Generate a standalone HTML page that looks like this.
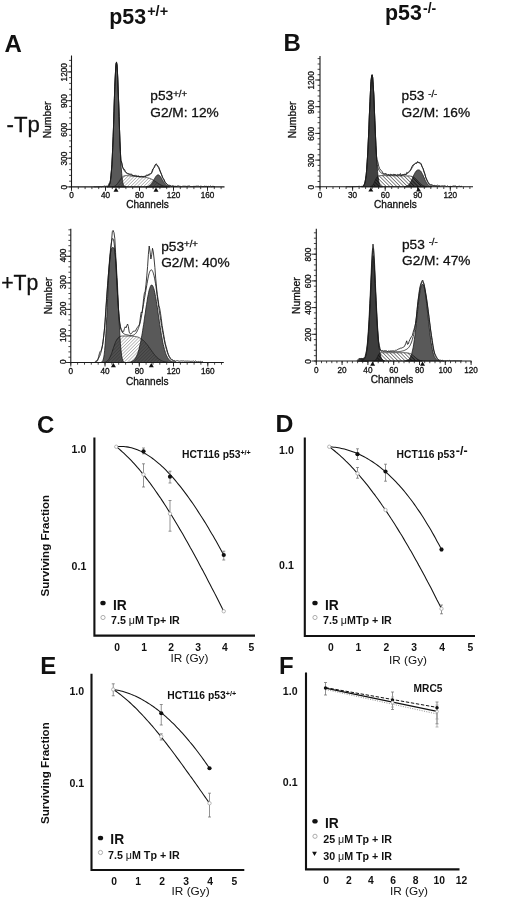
<!DOCTYPE html>
<html><head><meta charset="utf-8"><title>Figure</title>
<style>html,body{margin:0;padding:0;background:#fff}svg{display:block;will-change:transform;filter:grayscale(1)}</style></head>
<body><svg width="520" height="900" viewBox="0 0 520 900" font-family="Liberation Sans, sans-serif" fill="#111">
<rect width="520" height="900" fill="#fff"/>
<defs><pattern id="hatchF" width="2.3" height="2.3" patternUnits="userSpaceOnUse" patternTransform="rotate(-45)"><rect width="2.3" height="2.3" fill="#fff"/><path d="M0,1.15 H2.3" stroke="#999" stroke-width="0.6"/></pattern><pattern id="hatchFD" width="2.3" height="2.3" patternUnits="userSpaceOnUse" patternTransform="rotate(-45)"><path d="M0,1.15 H2.3" stroke="#333" stroke-width="0.45"/></pattern><pattern id="hatchB" width="2.5" height="2.5" patternUnits="userSpaceOnUse" patternTransform="rotate(45)"><rect width="2.5" height="2.5" fill="#fff"/><path d="M0,1.25 H2.5" stroke="#6a6a6a" stroke-width="0.8"/></pattern><pattern id="hatchBD" width="2.5" height="2.5" patternUnits="userSpaceOnUse" patternTransform="rotate(45)"><path d="M0,1.25 H2.5" stroke="#111" stroke-width="0.7"/></pattern></defs>
<clipPath id="cpa"><path d="M107.2,186.9 L107.2,186.8 L107.6,186.7 L108.0,186.5 L108.5,186.3 L108.9,185.8 L109.3,185.0 L109.8,183.9 L110.2,182.1 L110.6,179.6 L111.0,176.0 L111.4,171.2 L111.9,164.9 L112.3,157.0 L112.7,147.5 L113.2,136.5 L113.6,124.3 L114.0,111.4 L114.4,98.5 L114.8,86.4 L115.3,76.0 L115.7,68.2 L116.1,63.5 L116.5,62.4 L117.0,65.0 L117.4,71.0 L117.8,79.9 L118.2,91.1 L118.7,103.6 L119.1,116.6 L119.5,129.3 L119.9,141.1 L120.4,151.5 L120.8,160.4 L121.2,167.6 L121.7,173.3 L122.1,177.6 L122.5,180.7 L122.9,182.9 L123.3,184.4 L123.8,185.4 L124.2,186.0 L124.6,186.4 L125.0,186.6 L125.5,186.7 L125.5,186.9 Z"/><path d="M146.3,186.9 L146.3,186.7 L146.7,186.7 L147.1,186.6 L147.6,186.5 L148.0,186.3 L148.4,186.2 L148.8,186.0 L149.3,185.7 L149.7,185.5 L150.1,185.1 L150.6,184.7 L151.0,184.3 L151.4,183.8 L151.8,183.2 L152.2,182.6 L152.7,181.9 L153.1,181.2 L153.5,180.5 L153.9,179.7 L154.4,179.0 L154.8,178.2 L155.2,177.5 L155.6,176.8 L156.1,176.2 L156.5,175.7 L156.9,175.3 L157.3,175.0 L157.8,174.9 L158.2,174.8 L158.6,174.9 L159.1,175.1 L159.5,175.5 L159.9,175.9 L160.3,176.5 L160.8,177.1 L161.2,177.8 L161.6,178.5 L162.0,179.3 L162.4,180.0 L162.9,180.8 L163.3,181.5 L163.7,182.2 L164.1,182.8 L164.6,183.4 L165.0,184.0 L165.4,184.5 L165.8,184.9 L166.3,185.3 L166.7,185.6 L167.1,185.8 L167.6,186.1 L168.0,186.2 L168.4,186.4 L168.8,186.5 L169.2,186.6 L169.7,186.7 L169.7,186.9 Z"/></clipPath>
<path d="M112.7,186.9 L112.7,186.7 L113.2,186.7 L113.6,186.6 L114.0,186.4 L114.4,186.3 L114.8,186.1 L115.3,185.8 L115.7,185.5 L116.1,185.2 L116.5,184.8 L117.0,184.3 L117.4,183.8 L117.8,183.2 L118.2,182.6 L118.7,181.9 L119.1,181.3 L119.5,180.6 L119.9,180.0 L120.4,179.4 L120.8,178.8 L121.2,178.2 L121.7,177.7 L122.1,177.3 L122.5,176.9 L122.9,176.6 L123.3,176.3 L123.8,176.1 L124.2,175.9 L124.6,175.8 L125.0,175.7 L125.5,175.7 L125.9,175.6 L126.3,175.6 L126.8,175.6 L127.2,175.6 L127.6,175.7 L128.0,175.7 L128.4,175.7 L128.9,175.7 L129.3,175.8 L129.7,175.8 L130.2,175.8 L130.6,175.9 L131.0,175.9 L131.4,176.0 L131.8,176.0 L132.3,176.0 L132.7,176.1 L133.1,176.1 L133.6,176.1 L134.0,176.2 L134.4,176.2 L134.8,176.3 L135.2,176.3 L135.7,176.3 L136.1,176.4 L136.5,176.4 L136.9,176.4 L137.4,176.5 L137.8,176.5 L138.2,176.6 L138.6,176.6 L139.1,176.6 L139.5,176.7 L139.9,176.7 L140.3,176.8 L140.8,176.8 L141.2,176.8 L141.6,176.9 L142.1,176.9 L142.5,177.0 L142.9,177.0 L143.3,177.1 L143.8,177.1 L144.2,177.2 L144.6,177.2 L145.0,177.3 L145.4,177.3 L145.9,177.4 L146.3,177.5 L146.7,177.6 L147.1,177.7 L147.6,177.8 L148.0,177.9 L148.4,178.0 L148.8,178.1 L149.3,178.2 L149.7,178.4 L150.1,178.5 L150.6,178.7 L151.0,178.9 L151.4,179.1 L151.8,179.3 L152.2,179.5 L152.7,179.7 L153.1,180.0 L153.5,180.2 L153.9,180.5 L154.4,180.8 L154.8,181.0 L155.2,181.3 L155.6,181.6 L156.1,181.9 L156.5,182.2 L156.9,182.5 L157.3,182.8 L157.8,183.1 L158.2,183.4 L158.6,183.6 L159.1,183.9 L159.5,184.2 L159.9,184.4 L160.3,184.6 L160.8,184.9 L161.2,185.1 L161.6,185.3 L162.0,185.4 L162.4,185.6 L162.9,185.8 L163.3,185.9 L163.7,186.0 L164.1,186.1 L164.6,186.2 L165.0,186.3 L165.4,186.4 L165.8,186.5 L166.3,186.6 L166.7,186.6 L167.1,186.7 L167.1,186.9 Z" fill="url(#hatchF)" stroke="none"/>
<path d="M107.2,186.9 L107.2,186.8 L107.6,186.7 L108.0,186.5 L108.5,186.3 L108.9,185.8 L109.3,185.0 L109.8,183.9 L110.2,182.1 L110.6,179.6 L111.0,176.0 L111.4,171.2 L111.9,164.9 L112.3,157.0 L112.7,147.5 L113.2,136.5 L113.6,124.3 L114.0,111.4 L114.4,98.5 L114.8,86.4 L115.3,76.0 L115.7,68.2 L116.1,63.5 L116.5,62.4 L117.0,65.0 L117.4,71.0 L117.8,79.9 L118.2,91.1 L118.7,103.6 L119.1,116.6 L119.5,129.3 L119.9,141.1 L120.4,151.5 L120.8,160.4 L121.2,167.6 L121.7,173.3 L122.1,177.6 L122.5,180.7 L122.9,182.9 L123.3,184.4 L123.8,185.4 L124.2,186.0 L124.6,186.4 L125.0,186.6 L125.5,186.7 L125.5,186.9 Z" fill="#595959" stroke="#1a1a1a" stroke-width="0.8"/>
<path d="M146.3,186.9 L146.3,186.7 L146.7,186.7 L147.1,186.6 L147.6,186.5 L148.0,186.3 L148.4,186.2 L148.8,186.0 L149.3,185.7 L149.7,185.5 L150.1,185.1 L150.6,184.7 L151.0,184.3 L151.4,183.8 L151.8,183.2 L152.2,182.6 L152.7,181.9 L153.1,181.2 L153.5,180.5 L153.9,179.7 L154.4,179.0 L154.8,178.2 L155.2,177.5 L155.6,176.8 L156.1,176.2 L156.5,175.7 L156.9,175.3 L157.3,175.0 L157.8,174.9 L158.2,174.8 L158.6,174.9 L159.1,175.1 L159.5,175.5 L159.9,175.9 L160.3,176.5 L160.8,177.1 L161.2,177.8 L161.6,178.5 L162.0,179.3 L162.4,180.0 L162.9,180.8 L163.3,181.5 L163.7,182.2 L164.1,182.8 L164.6,183.4 L165.0,184.0 L165.4,184.5 L165.8,184.9 L166.3,185.3 L166.7,185.6 L167.1,185.8 L167.6,186.1 L168.0,186.2 L168.4,186.4 L168.8,186.5 L169.2,186.6 L169.7,186.7 L169.7,186.9 Z" fill="#595959" stroke="#1a1a1a" stroke-width="0.8"/>
<g clip-path="url(#cpa)"><path d="M112.7,186.9 L112.7,186.7 L113.2,186.7 L113.6,186.6 L114.0,186.4 L114.4,186.3 L114.8,186.1 L115.3,185.8 L115.7,185.5 L116.1,185.2 L116.5,184.8 L117.0,184.3 L117.4,183.8 L117.8,183.2 L118.2,182.6 L118.7,181.9 L119.1,181.3 L119.5,180.6 L119.9,180.0 L120.4,179.4 L120.8,178.8 L121.2,178.2 L121.7,177.7 L122.1,177.3 L122.5,176.9 L122.9,176.6 L123.3,176.3 L123.8,176.1 L124.2,175.9 L124.6,175.8 L125.0,175.7 L125.5,175.7 L125.9,175.6 L126.3,175.6 L126.8,175.6 L127.2,175.6 L127.6,175.7 L128.0,175.7 L128.4,175.7 L128.9,175.7 L129.3,175.8 L129.7,175.8 L130.2,175.8 L130.6,175.9 L131.0,175.9 L131.4,176.0 L131.8,176.0 L132.3,176.0 L132.7,176.1 L133.1,176.1 L133.6,176.1 L134.0,176.2 L134.4,176.2 L134.8,176.3 L135.2,176.3 L135.7,176.3 L136.1,176.4 L136.5,176.4 L136.9,176.4 L137.4,176.5 L137.8,176.5 L138.2,176.6 L138.6,176.6 L139.1,176.6 L139.5,176.7 L139.9,176.7 L140.3,176.8 L140.8,176.8 L141.2,176.8 L141.6,176.9 L142.1,176.9 L142.5,177.0 L142.9,177.0 L143.3,177.1 L143.8,177.1 L144.2,177.2 L144.6,177.2 L145.0,177.3 L145.4,177.3 L145.9,177.4 L146.3,177.5 L146.7,177.6 L147.1,177.7 L147.6,177.8 L148.0,177.9 L148.4,178.0 L148.8,178.1 L149.3,178.2 L149.7,178.4 L150.1,178.5 L150.6,178.7 L151.0,178.9 L151.4,179.1 L151.8,179.3 L152.2,179.5 L152.7,179.7 L153.1,180.0 L153.5,180.2 L153.9,180.5 L154.4,180.8 L154.8,181.0 L155.2,181.3 L155.6,181.6 L156.1,181.9 L156.5,182.2 L156.9,182.5 L157.3,182.8 L157.8,183.1 L158.2,183.4 L158.6,183.6 L159.1,183.9 L159.5,184.2 L159.9,184.4 L160.3,184.6 L160.8,184.9 L161.2,185.1 L161.6,185.3 L162.0,185.4 L162.4,185.6 L162.9,185.8 L163.3,185.9 L163.7,186.0 L164.1,186.1 L164.6,186.2 L165.0,186.3 L165.4,186.4 L165.8,186.5 L166.3,186.6 L166.7,186.6 L167.1,186.7 L167.1,186.9 Z" fill="#000" fill-opacity="0.1"/><path d="M112.7,186.9 L112.7,186.7 L113.2,186.7 L113.6,186.6 L114.0,186.4 L114.4,186.3 L114.8,186.1 L115.3,185.8 L115.7,185.5 L116.1,185.2 L116.5,184.8 L117.0,184.3 L117.4,183.8 L117.8,183.2 L118.2,182.6 L118.7,181.9 L119.1,181.3 L119.5,180.6 L119.9,180.0 L120.4,179.4 L120.8,178.8 L121.2,178.2 L121.7,177.7 L122.1,177.3 L122.5,176.9 L122.9,176.6 L123.3,176.3 L123.8,176.1 L124.2,175.9 L124.6,175.8 L125.0,175.7 L125.5,175.7 L125.9,175.6 L126.3,175.6 L126.8,175.6 L127.2,175.6 L127.6,175.7 L128.0,175.7 L128.4,175.7 L128.9,175.7 L129.3,175.8 L129.7,175.8 L130.2,175.8 L130.6,175.9 L131.0,175.9 L131.4,176.0 L131.8,176.0 L132.3,176.0 L132.7,176.1 L133.1,176.1 L133.6,176.1 L134.0,176.2 L134.4,176.2 L134.8,176.3 L135.2,176.3 L135.7,176.3 L136.1,176.4 L136.5,176.4 L136.9,176.4 L137.4,176.5 L137.8,176.5 L138.2,176.6 L138.6,176.6 L139.1,176.6 L139.5,176.7 L139.9,176.7 L140.3,176.8 L140.8,176.8 L141.2,176.8 L141.6,176.9 L142.1,176.9 L142.5,177.0 L142.9,177.0 L143.3,177.1 L143.8,177.1 L144.2,177.2 L144.6,177.2 L145.0,177.3 L145.4,177.3 L145.9,177.4 L146.3,177.5 L146.7,177.6 L147.1,177.7 L147.6,177.8 L148.0,177.9 L148.4,178.0 L148.8,178.1 L149.3,178.2 L149.7,178.4 L150.1,178.5 L150.6,178.7 L151.0,178.9 L151.4,179.1 L151.8,179.3 L152.2,179.5 L152.7,179.7 L153.1,180.0 L153.5,180.2 L153.9,180.5 L154.4,180.8 L154.8,181.0 L155.2,181.3 L155.6,181.6 L156.1,181.9 L156.5,182.2 L156.9,182.5 L157.3,182.8 L157.8,183.1 L158.2,183.4 L158.6,183.6 L159.1,183.9 L159.5,184.2 L159.9,184.4 L160.3,184.6 L160.8,184.9 L161.2,185.1 L161.6,185.3 L162.0,185.4 L162.4,185.6 L162.9,185.8 L163.3,185.9 L163.7,186.0 L164.1,186.1 L164.6,186.2 L165.0,186.3 L165.4,186.4 L165.8,186.5 L166.3,186.6 L166.7,186.6 L167.1,186.7 L167.1,186.9 Z" fill="url(#hatchFD)"/></g>
<path d="M112.7,186.9 L112.7,186.7 L113.2,186.7 L113.6,186.6 L114.0,186.4 L114.4,186.3 L114.8,186.1 L115.3,185.8 L115.7,185.5 L116.1,185.2 L116.5,184.8 L117.0,184.3 L117.4,183.8 L117.8,183.2 L118.2,182.6 L118.7,181.9 L119.1,181.3 L119.5,180.6 L119.9,180.0 L120.4,179.4 L120.8,178.8 L121.2,178.2 L121.7,177.7 L122.1,177.3 L122.5,176.9 L122.9,176.6 L123.3,176.3 L123.8,176.1 L124.2,175.9 L124.6,175.8 L125.0,175.7 L125.5,175.7 L125.9,175.6 L126.3,175.6 L126.8,175.6 L127.2,175.6 L127.6,175.7 L128.0,175.7 L128.4,175.7 L128.9,175.7 L129.3,175.8 L129.7,175.8 L130.2,175.8 L130.6,175.9 L131.0,175.9 L131.4,176.0 L131.8,176.0 L132.3,176.0 L132.7,176.1 L133.1,176.1 L133.6,176.1 L134.0,176.2 L134.4,176.2 L134.8,176.3 L135.2,176.3 L135.7,176.3 L136.1,176.4 L136.5,176.4 L136.9,176.4 L137.4,176.5 L137.8,176.5 L138.2,176.6 L138.6,176.6 L139.1,176.6 L139.5,176.7 L139.9,176.7 L140.3,176.8 L140.8,176.8 L141.2,176.8 L141.6,176.9 L142.1,176.9 L142.5,177.0 L142.9,177.0 L143.3,177.1 L143.8,177.1 L144.2,177.2 L144.6,177.2 L145.0,177.3 L145.4,177.3 L145.9,177.4 L146.3,177.5 L146.7,177.6 L147.1,177.7 L147.6,177.8 L148.0,177.9 L148.4,178.0 L148.8,178.1 L149.3,178.2 L149.7,178.4 L150.1,178.5 L150.6,178.7 L151.0,178.9 L151.4,179.1 L151.8,179.3 L152.2,179.5 L152.7,179.7 L153.1,180.0 L153.5,180.2 L153.9,180.5 L154.4,180.8 L154.8,181.0 L155.2,181.3 L155.6,181.6 L156.1,181.9 L156.5,182.2 L156.9,182.5 L157.3,182.8 L157.8,183.1 L158.2,183.4 L158.6,183.6 L159.1,183.9 L159.5,184.2 L159.9,184.4 L160.3,184.6 L160.8,184.9 L161.2,185.1 L161.6,185.3 L162.0,185.4 L162.4,185.6 L162.9,185.8 L163.3,185.9 L163.7,186.0 L164.1,186.1 L164.6,186.2 L165.0,186.3 L165.4,186.4 L165.8,186.5 L166.3,186.6 L166.7,186.6 L167.1,186.7 L167.1,186.9 Z" fill="none" stroke="#1a1a1a" stroke-width="0.75"/>
<path d="M106.8,186.8 L107.2,186.8 L107.6,186.7 L108.0,186.5 L108.5,186.3 L108.9,185.8 L109.3,185.0 L109.8,183.9 L110.2,182.1 L110.6,179.6 L111.0,176.0 L111.4,171.2 L111.9,164.9 L112.3,157.0 L112.7,147.5 L113.2,136.5 L113.6,124.3 L114.0,111.4 L114.4,98.5 L114.8,86.4 L115.3,76.0 L115.7,68.2 L116.1,63.5 L116.5,62.4 L117.0,65.0 L117.4,71.0 L117.8,79.9 L118.2,91.1 L118.7,103.6 L119.1,116.6 L119.5,129.3 L119.9,141.1 L120.4,151.5 L120.8,160.4 L121.8,163.5 L122.2,165.3 L122.6,166.9 L123.0,167.9 L123.4,168.9 L123.8,169.7 L124.2,170.4 L124.6,171.0 L125.0,171.6 L125.4,172.1 L125.8,172.6 L126.2,172.9 L126.6,173.2 L127.0,173.5 L127.4,173.7 L127.8,173.9 L128.2,174.0 L128.6,174.2 L129.0,174.3 L129.4,174.4 L129.8,174.5 L130.2,174.7 L130.6,174.8 L131.1,174.9 L131.5,175.0 L131.9,175.2 L132.3,175.3 L132.7,175.4 L133.1,175.5 L133.5,175.7 L133.9,175.8 L134.3,175.9 L134.7,176.0 L135.1,176.1 L135.5,176.2 L135.9,176.3 L136.3,176.3 L136.7,176.4 L137.1,176.5 L137.5,176.5 L137.9,176.6 L138.3,176.6 L138.7,176.7 L139.1,176.7 L139.5,176.7 L139.9,176.7 L140.3,176.8 L140.7,176.8 L141.1,176.8 L141.5,176.8 L141.9,176.7 L142.3,176.7 L142.7,176.7 L143.1,176.6 L143.5,176.6 L143.9,176.5 L144.3,176.5 L144.7,176.4 L145.1,176.3 L145.5,176.2 L145.9,176.1 L146.3,176.0 L146.7,175.9 L147.1,175.7 L147.5,175.6 L147.9,175.5 L148.3,175.3 L148.7,175.2 L149.1,175.0 L149.6,174.8 L150.0,174.5 L150.4,174.1 L150.8,173.7 L151.2,173.1 L151.6,172.6 L152.0,171.9 L152.4,171.2 L152.8,170.3 L153.2,169.3 L153.6,168.2 L154.0,167.3 L154.4,166.4 L154.8,165.5 L155.2,164.8 L155.6,164.4 L156.0,164.3 L156.4,164.6 L156.8,165.1 L157.2,165.7 L157.6,166.2 L158.0,166.8 L158.4,167.5 L158.8,168.3 L159.2,169.1 L159.6,170.1 L160.0,171.1 L160.4,172.0 L160.8,173.0 L161.2,173.9 L161.6,174.9 L162.0,175.9 L162.4,176.8 L162.8,177.7 L163.2,178.6 L163.6,179.5 L164.0,180.3 L164.4,181.1 L164.8,181.8 L165.2,182.5 L165.6,183.1 L166.0,183.6 L166.4,184.1 L166.8,184.6 L167.2,184.9 L167.6,185.2 L168.1,185.4 L168.5,185.6 L168.9,185.7 L169.3,185.9 L169.7,185.9 L170.1,186.0 L170.5,186.1 L170.9,186.1 L171.3,186.2 L171.7,186.2 L172.1,186.3 L172.5,186.3 L172.9,186.3 L173.3,186.3 L173.7,186.4 L174.1,186.4 L174.5,186.4 L174.9,186.4 L175.3,186.4 L175.7,186.5 L176.1,186.5 L176.5,186.5 L176.9,186.5 L177.3,186.5" fill="none" stroke="#1a1a1a" stroke-width="0.85" stroke-linejoin="round"/>
<path d="M93.6,186.9 L94.0,186.9 L94.5,186.8 L94.9,186.9 L95.3,186.9 L95.7,186.9 L96.2,186.8 L96.6,186.8 L97.0,186.9 L97.4,186.9 L97.8,186.8 L98.3,186.8 L98.7,186.7 L99.1,186.7 L99.5,186.8 L100.0,186.8 L100.4,186.4 L100.8,186.8 L101.2,186.8 L101.7,186.8 L102.1,186.6 L102.5,186.5 L103.0,186.5 L103.4,186.4 L103.8,186.3 L104.2,186.1 L104.7,186.0 L105.1,186.1 L105.5,186.6 L105.9,185.9 L106.3,186.4 L106.8,186.0 L107.2,186.3 L107.6,185.8 L108.0,185.9 L108.5,185.4 L108.9,183.7 L109.3,184.3 L109.8,182.8 L110.2,182.1 L110.6,179.1 L111.0,175.2 L111.4,170.8 L111.9,164.4 L112.3,156.7 L112.7,147.7 L113.2,136.0 L113.6,124.5 L114.0,110.4 L114.4,98.6 L114.8,86.0 L115.3,76.0 L115.7,67.7 L116.1,63.7 L116.5,61.9 L117.0,65.0 L117.4,70.4 L117.8,79.6 L118.2,91.0 L118.7,103.9 L119.1,116.2 L119.5,129.1 L119.9,140.3 L120.4,151.7 L120.8,160.1 L121.8,162.6 L122.7,167.5 L123.6,169.3 L124.5,169.4 L125.4,171.4 L126.3,172.5 L127.2,173.2 L128.1,173.7 L129.0,173.7 L129.9,174.3 L130.8,174.1 L131.8,174.2 L132.7,176.0 L133.6,175.6 L134.5,175.8 L135.4,174.9 L136.3,175.9 L137.2,176.6 L138.1,175.5 L139.0,177.0 L139.9,176.2 L140.8,176.6 L141.7,176.3 L142.6,176.5 L143.5,176.9 L144.4,175.9 L145.3,176.8 L146.2,175.2 L147.1,174.8 L148.0,175.5 L148.9,174.1 L149.9,174.0 L150.8,173.9 L151.7,172.9 L152.6,169.2 L153.5,168.5 L154.4,167.5 L155.3,165.3 L156.2,163.8 L157.1,164.7 L158.0,166.2 L158.9,167.3 L159.8,170.0 L160.7,172.3 L161.6,174.5 L162.5,177.4 L163.4,178.6 L164.3,179.9 L165.2,182.6 L166.1,183.0 L167.0,184.2 L167.9,185.0 L168.9,185.3 L169.8,185.3 L170.7,185.7 L171.6,186.4 L172.5,185.8 L173.4,186.0 L174.3,186.4 L175.2,186.3 L176.1,186.4 L177.0,186.4 L177.9,185.7 L178.8,186.0 L179.7,186.3 L180.6,186.4 L181.5,186.6 L182.4,186.3 L183.3,186.2 L184.2,186.2 L185.1,186.2 L186.0,186.3 L186.9,186.4 L187.9,186.1 L188.8,186.0 L189.7,186.0 L190.6,186.5 L191.5,186.5 L192.4,186.5 L193.3,186.4 L194.2,186.4 L195.1,186.3 L196.0,186.4 L196.9,186.0 L197.8,186.2 L198.7,186.1 L199.6,186.5 L200.5,186.2 L201.4,186.3 L202.3,186.5 L203.2,186.7 L204.1,186.2 L205.0,186.2 L206.0,186.6 L206.9,186.2 L207.8,186.6 L208.7,186.3 L209.6,186.5 L210.5,186.0 L211.4,186.7 L212.3,186.4 L213.2,186.3 L214.1,186.7 L215.0,186.7" fill="none" stroke="#1a1a1a" stroke-width="0.85" stroke-linejoin="round"/>
<path d="M71.5,55.5 V186.9 H224.5" fill="none" stroke="#1a1a1a" stroke-width="1.1"/>
<path d="M66.7,186.9 H71.5" stroke="#1a1a1a" stroke-width="0.9"/>
<text x="66.6" y="187.3" font-size="8.2"  text-anchor="middle" transform="rotate(-90 66.6 187.3)" stroke="#111" stroke-width="0.3">0</text>
<path d="M66.7,158.2 H71.5" stroke="#1a1a1a" stroke-width="0.9"/>
<text x="66.6" y="158.6" font-size="8.2"  text-anchor="middle" transform="rotate(-90 66.6 158.6)" stroke="#111" stroke-width="0.3">300</text>
<path d="M66.7,129.4 H71.5" stroke="#1a1a1a" stroke-width="0.9"/>
<text x="66.6" y="129.8" font-size="8.2"  text-anchor="middle" transform="rotate(-90 66.6 129.8)" stroke="#111" stroke-width="0.3">600</text>
<path d="M66.7,100.7 H71.5" stroke="#1a1a1a" stroke-width="0.9"/>
<text x="66.6" y="101.1" font-size="8.2"  text-anchor="middle" transform="rotate(-90 66.6 101.1)" stroke="#111" stroke-width="0.3">900</text>
<path d="M66.7,71.9 H71.5" stroke="#1a1a1a" stroke-width="0.9"/>
<text x="66.6" y="72.3" font-size="8.2"  text-anchor="middle" transform="rotate(-90 66.6 72.3)" stroke="#111" stroke-width="0.3">1200</text>
<path d="M69.1,186.9 H71.5" stroke="#1a1a1a" stroke-width="0.8"/>
<path d="M69.1,181.2 H71.5" stroke="#1a1a1a" stroke-width="0.8"/>
<path d="M69.1,175.4 H71.5" stroke="#1a1a1a" stroke-width="0.8"/>
<path d="M69.1,169.7 H71.5" stroke="#1a1a1a" stroke-width="0.8"/>
<path d="M69.1,163.9 H71.5" stroke="#1a1a1a" stroke-width="0.8"/>
<path d="M69.1,158.2 H71.5" stroke="#1a1a1a" stroke-width="0.8"/>
<path d="M69.1,152.4 H71.5" stroke="#1a1a1a" stroke-width="0.8"/>
<path d="M69.1,146.7 H71.5" stroke="#1a1a1a" stroke-width="0.8"/>
<path d="M69.1,140.9 H71.5" stroke="#1a1a1a" stroke-width="0.8"/>
<path d="M69.1,135.2 H71.5" stroke="#1a1a1a" stroke-width="0.8"/>
<path d="M69.1,129.4 H71.5" stroke="#1a1a1a" stroke-width="0.8"/>
<path d="M69.1,123.7 H71.5" stroke="#1a1a1a" stroke-width="0.8"/>
<path d="M69.1,117.9 H71.5" stroke="#1a1a1a" stroke-width="0.8"/>
<path d="M69.1,112.2 H71.5" stroke="#1a1a1a" stroke-width="0.8"/>
<path d="M69.1,106.4 H71.5" stroke="#1a1a1a" stroke-width="0.8"/>
<path d="M69.1,100.7 H71.5" stroke="#1a1a1a" stroke-width="0.8"/>
<path d="M69.1,94.9 H71.5" stroke="#1a1a1a" stroke-width="0.8"/>
<path d="M69.1,89.2 H71.5" stroke="#1a1a1a" stroke-width="0.8"/>
<path d="M69.1,83.4 H71.5" stroke="#1a1a1a" stroke-width="0.8"/>
<path d="M69.1,77.6 H71.5" stroke="#1a1a1a" stroke-width="0.8"/>
<path d="M69.1,71.9 H71.5" stroke="#1a1a1a" stroke-width="0.8"/>
<path d="M69.1,66.1 H71.5" stroke="#1a1a1a" stroke-width="0.8"/>
<path d="M69.1,60.4 H71.5" stroke="#1a1a1a" stroke-width="0.8"/>
<path d="M71.5,186.9 V190.9" stroke="#1a1a1a" stroke-width="0.9"/>
<text x="71.5" y="198.2" font-size="8.2"  text-anchor="middle"  stroke="#111" stroke-width="0.3">0</text>
<path d="M105.5,186.9 V190.9" stroke="#1a1a1a" stroke-width="0.9"/>
<text x="105.5" y="198.2" font-size="8.2"  text-anchor="middle"  stroke="#111" stroke-width="0.3">40</text>
<path d="M139.5,186.9 V190.9" stroke="#1a1a1a" stroke-width="0.9"/>
<text x="139.5" y="198.2" font-size="8.2"  text-anchor="middle"  stroke="#111" stroke-width="0.3">80</text>
<path d="M173.5,186.9 V190.9" stroke="#1a1a1a" stroke-width="0.9"/>
<text x="173.5" y="198.2" font-size="8.2"  text-anchor="middle"  stroke="#111" stroke-width="0.3">120</text>
<path d="M207.5,186.9 V190.9" stroke="#1a1a1a" stroke-width="0.9"/>
<text x="207.5" y="198.2" font-size="8.2"  text-anchor="middle"  stroke="#111" stroke-width="0.3">160</text>
<path d="M71.5,186.9 V189.1" stroke="#1a1a1a" stroke-width="0.8"/>
<path d="M78.3,186.9 V189.1" stroke="#1a1a1a" stroke-width="0.8"/>
<path d="M85.1,186.9 V189.1" stroke="#1a1a1a" stroke-width="0.8"/>
<path d="M91.9,186.9 V189.1" stroke="#1a1a1a" stroke-width="0.8"/>
<path d="M98.7,186.9 V189.1" stroke="#1a1a1a" stroke-width="0.8"/>
<path d="M105.5,186.9 V189.1" stroke="#1a1a1a" stroke-width="0.8"/>
<path d="M112.3,186.9 V189.1" stroke="#1a1a1a" stroke-width="0.8"/>
<path d="M119.1,186.9 V189.1" stroke="#1a1a1a" stroke-width="0.8"/>
<path d="M125.9,186.9 V189.1" stroke="#1a1a1a" stroke-width="0.8"/>
<path d="M132.7,186.9 V189.1" stroke="#1a1a1a" stroke-width="0.8"/>
<path d="M139.5,186.9 V189.1" stroke="#1a1a1a" stroke-width="0.8"/>
<path d="M146.3,186.9 V189.1" stroke="#1a1a1a" stroke-width="0.8"/>
<path d="M153.1,186.9 V189.1" stroke="#1a1a1a" stroke-width="0.8"/>
<path d="M159.9,186.9 V189.1" stroke="#1a1a1a" stroke-width="0.8"/>
<path d="M166.7,186.9 V189.1" stroke="#1a1a1a" stroke-width="0.8"/>
<path d="M173.5,186.9 V189.1" stroke="#1a1a1a" stroke-width="0.8"/>
<path d="M180.3,186.9 V189.1" stroke="#1a1a1a" stroke-width="0.8"/>
<path d="M187.1,186.9 V189.1" stroke="#1a1a1a" stroke-width="0.8"/>
<path d="M193.9,186.9 V189.1" stroke="#1a1a1a" stroke-width="0.8"/>
<path d="M200.7,186.9 V189.1" stroke="#1a1a1a" stroke-width="0.8"/>
<path d="M207.5,186.9 V189.1" stroke="#1a1a1a" stroke-width="0.8"/>
<path d="M214.3,186.9 V189.1" stroke="#1a1a1a" stroke-width="0.8"/>
<path d="M221.1,186.9 V189.1" stroke="#1a1a1a" stroke-width="0.8"/>
<path d="M116.0,187.5 l2.5,4.2 h-5 Z" fill="#111"/>
<path d="M156.0,187.5 l2.5,4.2 h-5 Z" fill="#111"/>
<text x="50.5" y="120" font-size="10.3"  text-anchor="middle" transform="rotate(-90 50.5 120)" stroke="#111" stroke-width="0.3">Number</text>
<text x="147.5" y="207.5" font-size="10.1"  text-anchor="middle"  stroke="#111" stroke-width="0.3">Channels</text>
<clipPath id="cpb"><path d="M361.8,186.8 L361.8,186.7 L362.4,186.6 L362.9,186.3 L363.4,185.9 L364.0,185.2 L364.5,184.0 L365.1,182.0 L365.6,179.2 L366.2,175.0 L366.7,169.2 L367.2,161.6 L367.8,152.1 L368.3,140.8 L368.9,128.2 L369.4,114.9 L370.0,101.9 L370.5,90.4 L371.0,81.5 L371.6,76.0 L372.1,74.7 L372.7,77.7 L373.2,84.7 L373.8,94.8 L374.3,107.0 L374.8,120.2 L375.4,133.4 L375.9,145.5 L376.5,156.1 L377.0,164.9 L377.6,171.7 L378.1,176.8 L378.6,180.4 L379.2,182.9 L379.7,184.5 L380.3,185.5 L380.8,186.1 L381.4,186.4 L381.9,186.6 L382.4,186.7 L382.4,186.8 Z"/><path d="M404.7,186.8 L404.7,186.6 L405.3,186.6 L405.8,186.4 L406.3,186.3 L406.9,186.1 L407.4,185.8 L408.0,185.4 L408.5,184.9 L409.1,184.4 L409.6,183.7 L410.1,182.9 L410.7,181.9 L411.2,180.9 L411.8,179.8 L412.3,178.6 L412.9,177.4 L413.4,176.1 L413.9,174.9 L414.5,173.8 L415.0,172.8 L415.6,171.9 L416.1,171.1 L416.7,170.6 L417.2,170.2 L417.7,170.0 L418.3,169.9 L418.8,169.9 L419.4,170.1 L419.9,170.4 L420.5,170.9 L421.0,171.5 L421.5,172.4 L422.1,173.4 L422.6,174.5 L423.2,175.6 L423.7,176.9 L424.3,178.1 L424.8,179.3 L425.3,180.5 L425.9,181.5 L426.4,182.5 L427.0,183.4 L427.5,184.1 L428.1,184.7 L428.6,185.2 L429.1,185.6 L429.7,186.0 L430.2,186.2 L430.8,186.4 L431.3,186.5 L431.9,186.6 L431.9,186.8 Z"/></clipPath>
<path d="M370.0,186.8 L370.0,186.7 L370.5,186.6 L371.0,186.5 L371.6,186.2 L372.1,185.8 L372.7,185.2 L373.2,184.5 L373.8,183.5 L374.3,182.4 L374.8,181.2 L375.4,180.0 L375.9,178.9 L376.5,177.9 L377.0,177.1 L377.6,176.5 L378.1,176.2 L378.6,175.9 L379.2,175.8 L379.7,175.7 L380.3,175.6 L380.8,175.6 L381.4,175.6 L381.9,175.6 L382.4,175.6 L383.0,175.6 L383.5,175.6 L384.1,175.6 L384.6,175.6 L385.2,175.6 L385.7,175.7 L386.2,175.7 L386.8,175.7 L387.3,175.7 L387.9,175.7 L388.4,175.7 L389.0,175.7 L389.5,175.7 L390.0,175.7 L390.6,175.7 L391.1,175.7 L391.7,175.7 L392.2,175.7 L392.8,175.7 L393.3,175.7 L393.8,175.7 L394.4,175.7 L394.9,175.7 L395.5,175.8 L396.0,175.8 L396.6,175.8 L397.1,175.8 L397.6,175.8 L398.2,175.8 L398.7,175.8 L399.3,175.8 L399.8,175.8 L400.4,175.8 L400.9,175.8 L401.4,175.8 L402.0,175.8 L402.5,175.8 L403.1,175.8 L403.6,175.8 L404.2,175.8 L404.7,175.8 L405.3,175.9 L405.8,175.9 L406.3,175.9 L406.9,175.9 L407.4,175.9 L408.0,175.9 L408.5,175.9 L409.1,176.0 L409.6,176.0 L410.1,176.1 L410.7,176.2 L411.2,176.3 L411.8,176.4 L412.3,176.6 L412.9,176.8 L413.4,177.0 L413.9,177.3 L414.5,177.7 L415.0,178.1 L415.6,178.6 L416.1,179.1 L416.7,179.6 L417.2,180.2 L417.7,180.8 L418.3,181.4 L418.8,182.0 L419.4,182.6 L419.9,183.2 L420.5,183.7 L421.0,184.2 L421.5,184.7 L422.1,185.1 L422.6,185.4 L423.2,185.7 L423.7,186.0 L424.3,186.2 L424.8,186.3 L425.3,186.4 L425.9,186.5 L426.4,186.6 L426.4,186.8 Z" fill="url(#hatchB)" stroke="none"/>
<path d="M361.8,186.8 L361.8,186.7 L362.4,186.6 L362.9,186.3 L363.4,185.9 L364.0,185.2 L364.5,184.0 L365.1,182.0 L365.6,179.2 L366.2,175.0 L366.7,169.2 L367.2,161.6 L367.8,152.1 L368.3,140.8 L368.9,128.2 L369.4,114.9 L370.0,101.9 L370.5,90.4 L371.0,81.5 L371.6,76.0 L372.1,74.7 L372.7,77.7 L373.2,84.7 L373.8,94.8 L374.3,107.0 L374.8,120.2 L375.4,133.4 L375.9,145.5 L376.5,156.1 L377.0,164.9 L377.6,171.7 L378.1,176.8 L378.6,180.4 L379.2,182.9 L379.7,184.5 L380.3,185.5 L380.8,186.1 L381.4,186.4 L381.9,186.6 L382.4,186.7 L382.4,186.8 Z" fill="#414141" stroke="#1a1a1a" stroke-width="0.8"/>
<path d="M404.7,186.8 L404.7,186.6 L405.3,186.6 L405.8,186.4 L406.3,186.3 L406.9,186.1 L407.4,185.8 L408.0,185.4 L408.5,184.9 L409.1,184.4 L409.6,183.7 L410.1,182.9 L410.7,181.9 L411.2,180.9 L411.8,179.8 L412.3,178.6 L412.9,177.4 L413.4,176.1 L413.9,174.9 L414.5,173.8 L415.0,172.8 L415.6,171.9 L416.1,171.1 L416.7,170.6 L417.2,170.2 L417.7,170.0 L418.3,169.9 L418.8,169.9 L419.4,170.1 L419.9,170.4 L420.5,170.9 L421.0,171.5 L421.5,172.4 L422.1,173.4 L422.6,174.5 L423.2,175.6 L423.7,176.9 L424.3,178.1 L424.8,179.3 L425.3,180.5 L425.9,181.5 L426.4,182.5 L427.0,183.4 L427.5,184.1 L428.1,184.7 L428.6,185.2 L429.1,185.6 L429.7,186.0 L430.2,186.2 L430.8,186.4 L431.3,186.5 L431.9,186.6 L431.9,186.8 Z" fill="#595959" stroke="#1a1a1a" stroke-width="0.8"/>
<g clip-path="url(#cpb)"><path d="M370.0,186.8 L370.0,186.7 L370.5,186.6 L371.0,186.5 L371.6,186.2 L372.1,185.8 L372.7,185.2 L373.2,184.5 L373.8,183.5 L374.3,182.4 L374.8,181.2 L375.4,180.0 L375.9,178.9 L376.5,177.9 L377.0,177.1 L377.6,176.5 L378.1,176.2 L378.6,175.9 L379.2,175.8 L379.7,175.7 L380.3,175.6 L380.8,175.6 L381.4,175.6 L381.9,175.6 L382.4,175.6 L383.0,175.6 L383.5,175.6 L384.1,175.6 L384.6,175.6 L385.2,175.6 L385.7,175.7 L386.2,175.7 L386.8,175.7 L387.3,175.7 L387.9,175.7 L388.4,175.7 L389.0,175.7 L389.5,175.7 L390.0,175.7 L390.6,175.7 L391.1,175.7 L391.7,175.7 L392.2,175.7 L392.8,175.7 L393.3,175.7 L393.8,175.7 L394.4,175.7 L394.9,175.7 L395.5,175.8 L396.0,175.8 L396.6,175.8 L397.1,175.8 L397.6,175.8 L398.2,175.8 L398.7,175.8 L399.3,175.8 L399.8,175.8 L400.4,175.8 L400.9,175.8 L401.4,175.8 L402.0,175.8 L402.5,175.8 L403.1,175.8 L403.6,175.8 L404.2,175.8 L404.7,175.8 L405.3,175.9 L405.8,175.9 L406.3,175.9 L406.9,175.9 L407.4,175.9 L408.0,175.9 L408.5,175.9 L409.1,176.0 L409.6,176.0 L410.1,176.1 L410.7,176.2 L411.2,176.3 L411.8,176.4 L412.3,176.6 L412.9,176.8 L413.4,177.0 L413.9,177.3 L414.5,177.7 L415.0,178.1 L415.6,178.6 L416.1,179.1 L416.7,179.6 L417.2,180.2 L417.7,180.8 L418.3,181.4 L418.8,182.0 L419.4,182.6 L419.9,183.2 L420.5,183.7 L421.0,184.2 L421.5,184.7 L422.1,185.1 L422.6,185.4 L423.2,185.7 L423.7,186.0 L424.3,186.2 L424.8,186.3 L425.3,186.4 L425.9,186.5 L426.4,186.6 L426.4,186.8 Z" fill="#000" fill-opacity="0.2"/><path d="M370.0,186.8 L370.0,186.7 L370.5,186.6 L371.0,186.5 L371.6,186.2 L372.1,185.8 L372.7,185.2 L373.2,184.5 L373.8,183.5 L374.3,182.4 L374.8,181.2 L375.4,180.0 L375.9,178.9 L376.5,177.9 L377.0,177.1 L377.6,176.5 L378.1,176.2 L378.6,175.9 L379.2,175.8 L379.7,175.7 L380.3,175.6 L380.8,175.6 L381.4,175.6 L381.9,175.6 L382.4,175.6 L383.0,175.6 L383.5,175.6 L384.1,175.6 L384.6,175.6 L385.2,175.6 L385.7,175.7 L386.2,175.7 L386.8,175.7 L387.3,175.7 L387.9,175.7 L388.4,175.7 L389.0,175.7 L389.5,175.7 L390.0,175.7 L390.6,175.7 L391.1,175.7 L391.7,175.7 L392.2,175.7 L392.8,175.7 L393.3,175.7 L393.8,175.7 L394.4,175.7 L394.9,175.7 L395.5,175.8 L396.0,175.8 L396.6,175.8 L397.1,175.8 L397.6,175.8 L398.2,175.8 L398.7,175.8 L399.3,175.8 L399.8,175.8 L400.4,175.8 L400.9,175.8 L401.4,175.8 L402.0,175.8 L402.5,175.8 L403.1,175.8 L403.6,175.8 L404.2,175.8 L404.7,175.8 L405.3,175.9 L405.8,175.9 L406.3,175.9 L406.9,175.9 L407.4,175.9 L408.0,175.9 L408.5,175.9 L409.1,176.0 L409.6,176.0 L410.1,176.1 L410.7,176.2 L411.2,176.3 L411.8,176.4 L412.3,176.6 L412.9,176.8 L413.4,177.0 L413.9,177.3 L414.5,177.7 L415.0,178.1 L415.6,178.6 L416.1,179.1 L416.7,179.6 L417.2,180.2 L417.7,180.8 L418.3,181.4 L418.8,182.0 L419.4,182.6 L419.9,183.2 L420.5,183.7 L421.0,184.2 L421.5,184.7 L422.1,185.1 L422.6,185.4 L423.2,185.7 L423.7,186.0 L424.3,186.2 L424.8,186.3 L425.3,186.4 L425.9,186.5 L426.4,186.6 L426.4,186.8 Z" fill="url(#hatchBD)"/></g>
<path d="M370.0,186.8 L370.0,186.7 L370.5,186.6 L371.0,186.5 L371.6,186.2 L372.1,185.8 L372.7,185.2 L373.2,184.5 L373.8,183.5 L374.3,182.4 L374.8,181.2 L375.4,180.0 L375.9,178.9 L376.5,177.9 L377.0,177.1 L377.6,176.5 L378.1,176.2 L378.6,175.9 L379.2,175.8 L379.7,175.7 L380.3,175.6 L380.8,175.6 L381.4,175.6 L381.9,175.6 L382.4,175.6 L383.0,175.6 L383.5,175.6 L384.1,175.6 L384.6,175.6 L385.2,175.6 L385.7,175.7 L386.2,175.7 L386.8,175.7 L387.3,175.7 L387.9,175.7 L388.4,175.7 L389.0,175.7 L389.5,175.7 L390.0,175.7 L390.6,175.7 L391.1,175.7 L391.7,175.7 L392.2,175.7 L392.8,175.7 L393.3,175.7 L393.8,175.7 L394.4,175.7 L394.9,175.7 L395.5,175.8 L396.0,175.8 L396.6,175.8 L397.1,175.8 L397.6,175.8 L398.2,175.8 L398.7,175.8 L399.3,175.8 L399.8,175.8 L400.4,175.8 L400.9,175.8 L401.4,175.8 L402.0,175.8 L402.5,175.8 L403.1,175.8 L403.6,175.8 L404.2,175.8 L404.7,175.8 L405.3,175.9 L405.8,175.9 L406.3,175.9 L406.9,175.9 L407.4,175.9 L408.0,175.9 L408.5,175.9 L409.1,176.0 L409.6,176.0 L410.1,176.1 L410.7,176.2 L411.2,176.3 L411.8,176.4 L412.3,176.6 L412.9,176.8 L413.4,177.0 L413.9,177.3 L414.5,177.7 L415.0,178.1 L415.6,178.6 L416.1,179.1 L416.7,179.6 L417.2,180.2 L417.7,180.8 L418.3,181.4 L418.8,182.0 L419.4,182.6 L419.9,183.2 L420.5,183.7 L421.0,184.2 L421.5,184.7 L422.1,185.1 L422.6,185.4 L423.2,185.7 L423.7,186.0 L424.3,186.2 L424.8,186.3 L425.3,186.4 L425.9,186.5 L426.4,186.6 L426.4,186.8 Z" fill="none" stroke="#1a1a1a" stroke-width="0.75"/>
<path d="M361.3,186.7 L361.8,186.7 L362.4,186.6 L362.9,186.3 L363.4,185.9 L364.0,185.2 L364.5,184.0 L365.1,182.0 L365.6,179.2 L366.2,175.0 L366.7,169.2 L367.2,161.6 L367.8,152.1 L368.3,140.8 L368.9,128.2 L369.4,114.9 L370.0,101.9 L370.5,90.4 L371.0,81.5 L371.6,76.0 L372.1,74.7 L372.7,77.7 L373.2,84.7 L373.8,94.8 L374.3,107.0 L374.8,120.2 L375.4,133.4 L375.9,145.5 L376.5,156.1 L377.2,164.5 L377.6,166.4 L378.0,168.0 L378.4,169.0 L378.8,169.9 L379.2,170.6 L379.6,171.2 L380.0,171.8 L380.4,172.2 L380.8,172.6 L381.2,173.0 L381.6,173.3 L382.0,173.5 L382.4,173.7 L382.8,173.9 L383.2,174.1 L383.6,174.2 L384.0,174.4 L384.4,174.4 L384.8,174.5 L385.2,174.6 L385.6,174.6 L386.0,174.7 L386.4,174.7 L386.8,174.8 L387.2,174.8 L387.6,174.9 L388.0,174.9 L388.4,174.9 L388.8,174.9 L389.2,175.0 L389.6,175.0 L390.0,175.0 L390.4,175.0 L390.8,175.0 L391.2,175.0 L391.6,175.0 L392.0,175.1 L392.4,175.1 L392.8,175.1 L393.2,175.1 L393.6,175.1 L394.0,175.1 L394.4,175.1 L394.8,175.1 L395.2,175.2 L395.6,175.2 L396.0,175.2 L396.4,175.2 L396.8,175.2 L397.2,175.2 L397.6,175.2 L398.0,175.2 L398.4,175.1 L398.8,175.1 L399.2,175.1 L399.6,175.1 L400.0,175.1 L400.4,175.1 L400.8,175.0 L401.2,175.0 L401.6,175.0 L402.0,174.9 L402.4,174.9 L402.8,174.8 L403.2,174.8 L403.6,174.7 L404.0,174.7 L404.4,174.6 L404.8,174.5 L405.2,174.4 L405.6,174.3 L406.0,174.1 L406.4,174.0 L406.8,173.8 L407.2,173.6 L407.6,173.4 L408.0,173.1 L408.4,172.8 L408.8,172.4 L409.2,172.0 L409.6,171.5 L410.0,171.0 L410.4,170.5 L410.8,169.9 L411.2,169.3 L411.6,168.6 L412.0,167.9 L412.4,167.2 L412.8,166.5 L413.2,165.9 L413.6,165.3 L414.0,164.8 L414.4,164.2 L414.8,163.8 L415.2,163.4 L415.6,163.2 L416.0,162.9 L416.4,162.8 L416.8,162.7 L417.2,162.5 L417.6,162.4 L418.0,162.3 L418.4,162.4 L418.8,162.5 L419.2,162.6 L419.6,162.8 L420.0,163.1 L420.4,163.6 L420.8,164.2 L421.2,164.9 L421.6,165.7 L422.0,166.5 L422.4,167.5 L422.8,168.5 L423.2,169.5 L423.6,170.7 L424.0,172.0 L424.4,173.2 L424.8,174.4 L425.2,175.6 L425.6,176.7 L426.0,177.9 L426.4,179.0 L426.8,180.0 L427.2,181.0 L427.6,181.8 L428.0,182.5 L428.4,183.2 L428.8,183.8 L429.2,184.2 L429.6,184.6 L430.0,184.9 L430.4,185.1 L430.8,185.3 L431.2,185.5 L431.6,185.6 L432.0,185.7 L432.4,185.8 L432.8,185.9 L433.2,185.9 L433.6,186.0 L434.0,186.1 L434.4,186.1 L434.8,186.2 L435.2,186.2 L435.6,186.3 L436.0,186.3 L436.4,186.3 L436.8,186.3 L437.2,186.4 L437.6,186.4 L438.0,186.4 L438.4,186.4 L438.8,186.4 L439.2,186.4 L439.6,186.5 L440.0,186.5" fill="none" stroke="#1a1a1a" stroke-width="0.85" stroke-linejoin="round"/>
<path d="M346.1,186.6 L346.6,186.8 L347.1,186.8 L347.7,186.8 L348.2,186.7 L348.8,186.8 L349.3,186.8 L349.9,186.8 L350.4,186.8 L351.0,186.8 L351.5,186.8 L352.0,186.8 L352.6,186.8 L353.1,186.7 L353.7,186.7 L354.2,186.8 L354.8,186.5 L355.3,186.6 L355.8,186.6 L356.4,186.5 L356.9,186.5 L357.5,186.5 L358.0,186.6 L358.6,186.4 L359.1,186.7 L359.6,186.2 L360.2,186.6 L360.7,186.5 L361.3,186.4 L361.8,186.4 L362.4,186.3 L362.9,186.0 L363.4,186.6 L364.0,185.1 L364.5,183.9 L365.1,182.2 L365.6,178.4 L366.2,175.4 L366.7,169.3 L367.2,162.6 L367.8,152.0 L368.3,141.6 L368.9,128.9 L369.4,113.9 L370.0,101.7 L370.5,90.5 L371.0,81.4 L371.6,76.7 L372.1,75.3 L372.7,77.6 L373.2,85.7 L373.8,94.7 L374.3,107.9 L374.8,120.2 L375.4,133.9 L375.9,144.8 L376.5,155.7 L376.9,159.9 L377.8,161.8 L378.7,166.0 L379.6,168.5 L380.5,170.0 L381.4,170.5 L382.3,171.8 L383.2,173.6 L384.1,173.9 L385.0,173.6 L386.0,173.6 L386.9,174.3 L387.8,175.4 L388.7,174.3 L389.6,175.5 L390.5,174.2 L391.4,174.5 L392.3,175.1 L393.2,174.3 L394.1,174.8 L395.0,174.1 L395.9,175.1 L396.8,175.4 L397.7,174.4 L398.6,174.9 L399.5,174.5 L400.4,173.5 L401.3,176.1 L402.2,174.8 L403.2,174.8 L404.1,174.4 L405.0,174.1 L405.9,175.0 L406.8,172.3 L407.7,172.7 L408.6,171.9 L409.5,171.0 L410.4,170.4 L411.3,168.1 L412.2,166.1 L413.1,164.8 L414.0,164.6 L414.9,163.9 L415.8,163.2 L416.7,163.4 L417.6,161.5 L418.5,162.7 L419.4,162.8 L420.4,162.9 L421.3,164.0 L422.2,167.0 L423.1,168.2 L424.0,171.3 L424.9,173.7 L425.8,177.7 L426.7,179.4 L427.6,181.2 L428.5,182.9 L429.4,184.0 L430.3,184.7 L431.2,184.5 L432.1,184.8 L433.0,185.5 L433.9,185.8 L434.8,185.3 L435.7,185.7 L436.7,185.6 L437.6,185.2 L438.5,185.7 L439.4,185.6 L440.3,186.1 L441.2,185.9 L442.1,186.0 L443.0,185.7 L443.9,186.1 L444.8,185.6 L445.7,186.2 L446.6,186.5 L447.5,185.9 L448.4,186.5 L449.3,186.6 L450.2,186.3 L451.1,186.6 L452.0,186.4 L452.9,186.2 L453.9,185.9 L454.8,186.1 L455.7,186.0 L456.6,186.6 L457.5,186.5 L458.4,186.4 L459.3,186.1 L460.2,186.6 L461.1,186.2 L462.0,186.6" fill="none" stroke="#1a1a1a" stroke-width="0.85" stroke-linejoin="round"/>
<path d="M320,56 V186.8 H473" fill="none" stroke="#1a1a1a" stroke-width="1.1"/>
<path d="M315.2,186.8 H320" stroke="#1a1a1a" stroke-width="0.9"/>
<text x="314.0" y="187.2" font-size="8.2"  text-anchor="middle" transform="rotate(-90 314.0 187.2)" stroke="#111" stroke-width="0.3">0</text>
<path d="M315.2,160.1 H320" stroke="#1a1a1a" stroke-width="0.9"/>
<text x="314.0" y="160.5" font-size="8.2"  text-anchor="middle" transform="rotate(-90 314.0 160.5)" stroke="#111" stroke-width="0.3">300</text>
<path d="M315.2,133.4 H320" stroke="#1a1a1a" stroke-width="0.9"/>
<text x="314.0" y="133.8" font-size="8.2"  text-anchor="middle" transform="rotate(-90 314.0 133.8)" stroke="#111" stroke-width="0.3">600</text>
<path d="M315.2,106.7 H320" stroke="#1a1a1a" stroke-width="0.9"/>
<text x="314.0" y="107.1" font-size="8.2"  text-anchor="middle" transform="rotate(-90 314.0 107.1)" stroke="#111" stroke-width="0.3">900</text>
<path d="M315.2,80.0 H320" stroke="#1a1a1a" stroke-width="0.9"/>
<text x="314.0" y="80.4" font-size="8.2"  text-anchor="middle" transform="rotate(-90 314.0 80.4)" stroke="#111" stroke-width="0.3">1200</text>
<path d="M317.6,186.8 H320" stroke="#1a1a1a" stroke-width="0.8"/>
<path d="M317.6,181.5 H320" stroke="#1a1a1a" stroke-width="0.8"/>
<path d="M317.6,176.1 H320" stroke="#1a1a1a" stroke-width="0.8"/>
<path d="M317.6,170.8 H320" stroke="#1a1a1a" stroke-width="0.8"/>
<path d="M317.6,165.4 H320" stroke="#1a1a1a" stroke-width="0.8"/>
<path d="M317.6,160.1 H320" stroke="#1a1a1a" stroke-width="0.8"/>
<path d="M317.6,154.8 H320" stroke="#1a1a1a" stroke-width="0.8"/>
<path d="M317.6,149.4 H320" stroke="#1a1a1a" stroke-width="0.8"/>
<path d="M317.6,144.1 H320" stroke="#1a1a1a" stroke-width="0.8"/>
<path d="M317.6,138.7 H320" stroke="#1a1a1a" stroke-width="0.8"/>
<path d="M317.6,133.4 H320" stroke="#1a1a1a" stroke-width="0.8"/>
<path d="M317.6,128.1 H320" stroke="#1a1a1a" stroke-width="0.8"/>
<path d="M317.6,122.7 H320" stroke="#1a1a1a" stroke-width="0.8"/>
<path d="M317.6,117.4 H320" stroke="#1a1a1a" stroke-width="0.8"/>
<path d="M317.6,112.0 H320" stroke="#1a1a1a" stroke-width="0.8"/>
<path d="M317.6,106.7 H320" stroke="#1a1a1a" stroke-width="0.8"/>
<path d="M317.6,101.4 H320" stroke="#1a1a1a" stroke-width="0.8"/>
<path d="M317.6,96.0 H320" stroke="#1a1a1a" stroke-width="0.8"/>
<path d="M317.6,90.7 H320" stroke="#1a1a1a" stroke-width="0.8"/>
<path d="M317.6,85.3 H320" stroke="#1a1a1a" stroke-width="0.8"/>
<path d="M317.6,80.0 H320" stroke="#1a1a1a" stroke-width="0.8"/>
<path d="M317.6,74.7 H320" stroke="#1a1a1a" stroke-width="0.8"/>
<path d="M317.6,69.3 H320" stroke="#1a1a1a" stroke-width="0.8"/>
<path d="M317.6,64.0 H320" stroke="#1a1a1a" stroke-width="0.8"/>
<path d="M317.6,58.6 H320" stroke="#1a1a1a" stroke-width="0.8"/>
<path d="M320.0,186.8 V190.8" stroke="#1a1a1a" stroke-width="0.9"/>
<text x="320.0" y="198.2" font-size="8.2"  text-anchor="middle"  stroke="#111" stroke-width="0.3">0</text>
<path d="M352.6,186.8 V190.8" stroke="#1a1a1a" stroke-width="0.9"/>
<text x="352.6" y="198.2" font-size="8.2"  text-anchor="middle"  stroke="#111" stroke-width="0.3">30</text>
<path d="M385.2,186.8 V190.8" stroke="#1a1a1a" stroke-width="0.9"/>
<text x="385.2" y="198.2" font-size="8.2"  text-anchor="middle"  stroke="#111" stroke-width="0.3">60</text>
<path d="M417.7,186.8 V190.8" stroke="#1a1a1a" stroke-width="0.9"/>
<text x="417.7" y="198.2" font-size="8.2"  text-anchor="middle"  stroke="#111" stroke-width="0.3">90</text>
<path d="M450.3,186.8 V190.8" stroke="#1a1a1a" stroke-width="0.9"/>
<text x="450.3" y="198.2" font-size="8.2"  text-anchor="middle"  stroke="#111" stroke-width="0.3">120</text>
<path d="M320.0,186.8 V189.0" stroke="#1a1a1a" stroke-width="0.8"/>
<path d="M326.5,186.8 V189.0" stroke="#1a1a1a" stroke-width="0.8"/>
<path d="M333.0,186.8 V189.0" stroke="#1a1a1a" stroke-width="0.8"/>
<path d="M339.5,186.8 V189.0" stroke="#1a1a1a" stroke-width="0.8"/>
<path d="M346.1,186.8 V189.0" stroke="#1a1a1a" stroke-width="0.8"/>
<path d="M352.6,186.8 V189.0" stroke="#1a1a1a" stroke-width="0.8"/>
<path d="M359.1,186.8 V189.0" stroke="#1a1a1a" stroke-width="0.8"/>
<path d="M365.6,186.8 V189.0" stroke="#1a1a1a" stroke-width="0.8"/>
<path d="M372.1,186.8 V189.0" stroke="#1a1a1a" stroke-width="0.8"/>
<path d="M378.6,186.8 V189.0" stroke="#1a1a1a" stroke-width="0.8"/>
<path d="M385.2,186.8 V189.0" stroke="#1a1a1a" stroke-width="0.8"/>
<path d="M391.7,186.8 V189.0" stroke="#1a1a1a" stroke-width="0.8"/>
<path d="M398.2,186.8 V189.0" stroke="#1a1a1a" stroke-width="0.8"/>
<path d="M404.7,186.8 V189.0" stroke="#1a1a1a" stroke-width="0.8"/>
<path d="M411.2,186.8 V189.0" stroke="#1a1a1a" stroke-width="0.8"/>
<path d="M417.7,186.8 V189.0" stroke="#1a1a1a" stroke-width="0.8"/>
<path d="M424.3,186.8 V189.0" stroke="#1a1a1a" stroke-width="0.8"/>
<path d="M430.8,186.8 V189.0" stroke="#1a1a1a" stroke-width="0.8"/>
<path d="M437.3,186.8 V189.0" stroke="#1a1a1a" stroke-width="0.8"/>
<path d="M443.8,186.8 V189.0" stroke="#1a1a1a" stroke-width="0.8"/>
<path d="M450.3,186.8 V189.0" stroke="#1a1a1a" stroke-width="0.8"/>
<path d="M456.8,186.8 V189.0" stroke="#1a1a1a" stroke-width="0.8"/>
<path d="M463.4,186.8 V189.0" stroke="#1a1a1a" stroke-width="0.8"/>
<path d="M469.9,186.8 V189.0" stroke="#1a1a1a" stroke-width="0.8"/>
<path d="M370.8,187.4 l2.5,4.2 h-5 Z" fill="#111"/>
<path d="M418.5,187.4 l2.5,4.2 h-5 Z" fill="#111"/>
<text x="296.0" y="120" font-size="10.3"  text-anchor="middle" transform="rotate(-90 296.0 120)" stroke="#111" stroke-width="0.3">Number</text>
<text x="395.4" y="208" font-size="10.1"  text-anchor="middle"  stroke="#111" stroke-width="0.3">Channels</text>
<clipPath id="cpc"><path d="M100.8,362.5 L100.8,362.4 L101.2,362.3 L101.6,362.1 L102.0,361.8 L102.5,361.3 L102.9,360.4 L103.3,359.1 L103.8,357.1 L104.2,354.4 L104.6,350.7 L105.0,345.9 L105.5,340.1 L105.9,333.2 L106.3,325.3 L106.8,316.7 L107.2,307.6 L107.6,298.4 L108.0,289.3 L108.5,280.8 L108.9,273.0 L109.3,266.2 L109.7,260.5 L110.2,256.0 L110.6,252.6 L111.0,250.2 L111.5,248.7 L111.9,247.9 L112.3,247.6 L112.7,247.5 L113.2,247.6 L113.6,247.8 L114.0,248.3 L114.5,249.5 L114.9,251.6 L115.3,254.5 L115.7,258.6 L116.2,263.8 L116.6,270.1 L117.0,277.5 L117.5,285.8 L117.9,294.7 L118.3,303.9 L118.7,313.1 L119.2,321.9 L119.6,330.1 L120.0,337.4 L120.4,343.7 L120.9,348.9 L121.3,353.0 L121.7,356.1 L122.2,358.4 L122.6,359.9 L123.0,361.0 L123.4,361.6 L123.9,362.0 L124.3,362.3 L124.7,362.4 L124.7,362.5 Z"/><path d="M128.6,362.5 L128.6,362.3 L129.0,362.2 L129.4,362.1 L129.9,362.1 L130.3,362.0 L130.7,361.9 L131.1,361.7 L131.6,361.6 L132.0,361.4 L132.4,361.1 L132.9,360.9 L133.3,360.6 L133.7,360.2 L134.1,359.8 L134.6,359.3 L135.0,358.8 L135.4,358.1 L135.9,357.4 L136.3,356.6 L136.7,355.8 L137.1,354.8 L137.6,353.7 L138.0,352.4 L138.4,351.1 L138.9,349.6 L139.3,348.0 L139.7,346.2 L140.1,344.4 L140.6,342.3 L141.0,340.2 L141.4,337.9 L141.8,335.5 L142.3,333.0 L142.7,330.3 L143.1,327.6 L143.6,324.7 L144.0,321.9 L144.4,318.9 L144.8,316.0 L145.3,313.0 L145.7,310.0 L146.1,307.1 L146.6,304.3 L147.0,301.6 L147.4,299.0 L147.8,296.5 L148.3,294.3 L148.7,292.2 L149.1,290.3 L149.6,288.7 L150.0,287.4 L150.4,286.4 L150.8,285.6 L151.3,285.1 L151.7,285.0 L152.1,285.1 L152.5,285.6 L153.0,286.4 L153.4,287.4 L153.8,288.7 L154.3,290.3 L154.7,292.2 L155.1,294.3 L155.5,296.5 L156.0,299.0 L156.4,301.6 L156.8,304.3 L157.3,307.1 L157.7,310.0 L158.1,313.0 L158.5,316.0 L159.0,318.9 L159.4,321.9 L159.8,324.7 L160.3,327.6 L160.7,330.3 L161.1,333.0 L161.5,335.5 L162.0,337.9 L162.4,340.2 L162.8,342.3 L163.2,344.4 L163.7,346.2 L164.1,348.0 L164.5,349.6 L165.0,351.1 L165.4,352.4 L165.8,353.7 L166.2,354.8 L166.7,355.8 L167.1,356.6 L167.5,357.4 L168.0,358.1 L168.4,358.8 L168.8,359.3 L169.2,359.8 L169.7,360.2 L170.1,360.6 L170.5,360.9 L171.0,361.1 L171.4,361.4 L171.8,361.6 L172.2,361.7 L172.7,361.9 L173.1,362.0 L173.5,362.1 L173.9,362.1 L174.4,362.2 L174.8,362.3 L174.8,362.5 Z"/></clipPath>
<path d="M104.2,362.5 L104.2,362.3 L104.6,362.3 L105.0,362.2 L105.5,362.1 L105.9,361.9 L106.3,361.7 L106.8,361.5 L107.2,361.2 L107.6,360.8 L108.0,360.4 L108.5,359.9 L108.9,359.3 L109.3,358.6 L109.7,357.8 L110.2,356.9 L110.6,355.9 L111.0,354.9 L111.5,353.7 L111.9,352.5 L112.3,351.3 L112.7,350.0 L113.2,348.7 L113.6,347.4 L114.0,346.2 L114.5,345.0 L114.9,343.8 L115.3,342.7 L115.7,341.7 L116.2,340.8 L116.6,340.0 L117.0,339.3 L117.5,338.7 L117.9,338.1 L118.3,337.7 L118.7,337.3 L119.2,337.0 L119.6,336.8 L120.0,336.6 L120.4,336.4 L120.9,336.3 L121.3,336.2 L121.7,336.1 L122.2,336.1 L122.6,336.0 L123.0,336.0 L123.4,336.0 L123.9,336.0 L124.3,336.0 L124.7,336.0 L125.2,336.0 L125.6,336.0 L126.0,336.0 L126.4,336.0 L126.9,336.0 L127.3,336.0 L127.7,336.0 L128.2,336.0 L128.6,336.0 L129.0,336.0 L129.4,336.0 L129.9,336.0 L130.3,336.0 L130.7,336.1 L131.1,336.1 L131.6,336.1 L132.0,336.1 L132.4,336.2 L132.9,336.2 L133.3,336.2 L133.7,336.3 L134.1,336.3 L134.6,336.4 L135.0,336.4 L135.4,336.5 L135.9,336.6 L136.3,336.7 L136.7,336.8 L137.1,336.9 L137.6,337.0 L138.0,337.2 L138.4,337.3 L138.9,337.5 L139.3,337.7 L139.7,337.9 L140.1,338.1 L140.6,338.4 L141.0,338.6 L141.4,338.9 L141.8,339.2 L142.3,339.5 L142.7,339.9 L143.1,340.2 L143.6,340.6 L144.0,341.0 L144.4,341.4 L144.8,341.9 L145.3,342.4 L145.7,342.8 L146.1,343.4 L146.6,343.9 L147.0,344.4 L147.4,345.0 L147.8,345.5 L148.3,346.1 L148.7,346.7 L149.1,347.3 L149.6,347.9 L150.0,348.5 L150.4,349.1 L150.8,349.7 L151.3,350.3 L151.7,350.9 L152.1,351.5 L152.5,352.1 L153.0,352.7 L153.4,353.3 L153.8,353.8 L154.3,354.4 L154.7,354.9 L155.1,355.4 L155.5,355.9 L156.0,356.4 L156.4,356.8 L156.8,357.3 L157.3,357.7 L157.7,358.1 L158.1,358.4 L158.5,358.8 L159.0,359.1 L159.4,359.4 L159.8,359.7 L160.3,360.0 L160.7,360.2 L161.1,360.5 L161.5,360.7 L162.0,360.9 L162.4,361.0 L162.8,361.2 L163.2,361.3 L163.7,361.5 L164.1,361.6 L164.5,361.7 L165.0,361.8 L165.4,361.9 L165.8,362.0 L166.2,362.0 L166.7,362.1 L167.1,362.2 L167.5,362.2 L168.0,362.2 L168.0,362.5 Z" fill="url(#hatchF)" stroke="none"/>
<path d="M100.8,362.5 L100.8,362.4 L101.2,362.3 L101.6,362.1 L102.0,361.8 L102.5,361.3 L102.9,360.4 L103.3,359.1 L103.8,357.1 L104.2,354.4 L104.6,350.7 L105.0,345.9 L105.5,340.1 L105.9,333.2 L106.3,325.3 L106.8,316.7 L107.2,307.6 L107.6,298.4 L108.0,289.3 L108.5,280.8 L108.9,273.0 L109.3,266.2 L109.7,260.5 L110.2,256.0 L110.6,252.6 L111.0,250.2 L111.5,248.7 L111.9,247.9 L112.3,247.6 L112.7,247.5 L113.2,247.6 L113.6,247.8 L114.0,248.3 L114.5,249.5 L114.9,251.6 L115.3,254.5 L115.7,258.6 L116.2,263.8 L116.6,270.1 L117.0,277.5 L117.5,285.8 L117.9,294.7 L118.3,303.9 L118.7,313.1 L119.2,321.9 L119.6,330.1 L120.0,337.4 L120.4,343.7 L120.9,348.9 L121.3,353.0 L121.7,356.1 L122.2,358.4 L122.6,359.9 L123.0,361.0 L123.4,361.6 L123.9,362.0 L124.3,362.3 L124.7,362.4 L124.7,362.5 Z" fill="#595959" stroke="#1a1a1a" stroke-width="0.8"/>
<path d="M128.6,362.5 L128.6,362.3 L129.0,362.2 L129.4,362.1 L129.9,362.1 L130.3,362.0 L130.7,361.9 L131.1,361.7 L131.6,361.6 L132.0,361.4 L132.4,361.1 L132.9,360.9 L133.3,360.6 L133.7,360.2 L134.1,359.8 L134.6,359.3 L135.0,358.8 L135.4,358.1 L135.9,357.4 L136.3,356.6 L136.7,355.8 L137.1,354.8 L137.6,353.7 L138.0,352.4 L138.4,351.1 L138.9,349.6 L139.3,348.0 L139.7,346.2 L140.1,344.4 L140.6,342.3 L141.0,340.2 L141.4,337.9 L141.8,335.5 L142.3,333.0 L142.7,330.3 L143.1,327.6 L143.6,324.7 L144.0,321.9 L144.4,318.9 L144.8,316.0 L145.3,313.0 L145.7,310.0 L146.1,307.1 L146.6,304.3 L147.0,301.6 L147.4,299.0 L147.8,296.5 L148.3,294.3 L148.7,292.2 L149.1,290.3 L149.6,288.7 L150.0,287.4 L150.4,286.4 L150.8,285.6 L151.3,285.1 L151.7,285.0 L152.1,285.1 L152.5,285.6 L153.0,286.4 L153.4,287.4 L153.8,288.7 L154.3,290.3 L154.7,292.2 L155.1,294.3 L155.5,296.5 L156.0,299.0 L156.4,301.6 L156.8,304.3 L157.3,307.1 L157.7,310.0 L158.1,313.0 L158.5,316.0 L159.0,318.9 L159.4,321.9 L159.8,324.7 L160.3,327.6 L160.7,330.3 L161.1,333.0 L161.5,335.5 L162.0,337.9 L162.4,340.2 L162.8,342.3 L163.2,344.4 L163.7,346.2 L164.1,348.0 L164.5,349.6 L165.0,351.1 L165.4,352.4 L165.8,353.7 L166.2,354.8 L166.7,355.8 L167.1,356.6 L167.5,357.4 L168.0,358.1 L168.4,358.8 L168.8,359.3 L169.2,359.8 L169.7,360.2 L170.1,360.6 L170.5,360.9 L171.0,361.1 L171.4,361.4 L171.8,361.6 L172.2,361.7 L172.7,361.9 L173.1,362.0 L173.5,362.1 L173.9,362.1 L174.4,362.2 L174.8,362.3 L174.8,362.5 Z" fill="#595959" stroke="#1a1a1a" stroke-width="0.8"/>
<g clip-path="url(#cpc)"><path d="M104.2,362.5 L104.2,362.3 L104.6,362.3 L105.0,362.2 L105.5,362.1 L105.9,361.9 L106.3,361.7 L106.8,361.5 L107.2,361.2 L107.6,360.8 L108.0,360.4 L108.5,359.9 L108.9,359.3 L109.3,358.6 L109.7,357.8 L110.2,356.9 L110.6,355.9 L111.0,354.9 L111.5,353.7 L111.9,352.5 L112.3,351.3 L112.7,350.0 L113.2,348.7 L113.6,347.4 L114.0,346.2 L114.5,345.0 L114.9,343.8 L115.3,342.7 L115.7,341.7 L116.2,340.8 L116.6,340.0 L117.0,339.3 L117.5,338.7 L117.9,338.1 L118.3,337.7 L118.7,337.3 L119.2,337.0 L119.6,336.8 L120.0,336.6 L120.4,336.4 L120.9,336.3 L121.3,336.2 L121.7,336.1 L122.2,336.1 L122.6,336.0 L123.0,336.0 L123.4,336.0 L123.9,336.0 L124.3,336.0 L124.7,336.0 L125.2,336.0 L125.6,336.0 L126.0,336.0 L126.4,336.0 L126.9,336.0 L127.3,336.0 L127.7,336.0 L128.2,336.0 L128.6,336.0 L129.0,336.0 L129.4,336.0 L129.9,336.0 L130.3,336.0 L130.7,336.1 L131.1,336.1 L131.6,336.1 L132.0,336.1 L132.4,336.2 L132.9,336.2 L133.3,336.2 L133.7,336.3 L134.1,336.3 L134.6,336.4 L135.0,336.4 L135.4,336.5 L135.9,336.6 L136.3,336.7 L136.7,336.8 L137.1,336.9 L137.6,337.0 L138.0,337.2 L138.4,337.3 L138.9,337.5 L139.3,337.7 L139.7,337.9 L140.1,338.1 L140.6,338.4 L141.0,338.6 L141.4,338.9 L141.8,339.2 L142.3,339.5 L142.7,339.9 L143.1,340.2 L143.6,340.6 L144.0,341.0 L144.4,341.4 L144.8,341.9 L145.3,342.4 L145.7,342.8 L146.1,343.4 L146.6,343.9 L147.0,344.4 L147.4,345.0 L147.8,345.5 L148.3,346.1 L148.7,346.7 L149.1,347.3 L149.6,347.9 L150.0,348.5 L150.4,349.1 L150.8,349.7 L151.3,350.3 L151.7,350.9 L152.1,351.5 L152.5,352.1 L153.0,352.7 L153.4,353.3 L153.8,353.8 L154.3,354.4 L154.7,354.9 L155.1,355.4 L155.5,355.9 L156.0,356.4 L156.4,356.8 L156.8,357.3 L157.3,357.7 L157.7,358.1 L158.1,358.4 L158.5,358.8 L159.0,359.1 L159.4,359.4 L159.8,359.7 L160.3,360.0 L160.7,360.2 L161.1,360.5 L161.5,360.7 L162.0,360.9 L162.4,361.0 L162.8,361.2 L163.2,361.3 L163.7,361.5 L164.1,361.6 L164.5,361.7 L165.0,361.8 L165.4,361.9 L165.8,362.0 L166.2,362.0 L166.7,362.1 L167.1,362.2 L167.5,362.2 L168.0,362.2 L168.0,362.5 Z" fill="#000" fill-opacity="0.1"/><path d="M104.2,362.5 L104.2,362.3 L104.6,362.3 L105.0,362.2 L105.5,362.1 L105.9,361.9 L106.3,361.7 L106.8,361.5 L107.2,361.2 L107.6,360.8 L108.0,360.4 L108.5,359.9 L108.9,359.3 L109.3,358.6 L109.7,357.8 L110.2,356.9 L110.6,355.9 L111.0,354.9 L111.5,353.7 L111.9,352.5 L112.3,351.3 L112.7,350.0 L113.2,348.7 L113.6,347.4 L114.0,346.2 L114.5,345.0 L114.9,343.8 L115.3,342.7 L115.7,341.7 L116.2,340.8 L116.6,340.0 L117.0,339.3 L117.5,338.7 L117.9,338.1 L118.3,337.7 L118.7,337.3 L119.2,337.0 L119.6,336.8 L120.0,336.6 L120.4,336.4 L120.9,336.3 L121.3,336.2 L121.7,336.1 L122.2,336.1 L122.6,336.0 L123.0,336.0 L123.4,336.0 L123.9,336.0 L124.3,336.0 L124.7,336.0 L125.2,336.0 L125.6,336.0 L126.0,336.0 L126.4,336.0 L126.9,336.0 L127.3,336.0 L127.7,336.0 L128.2,336.0 L128.6,336.0 L129.0,336.0 L129.4,336.0 L129.9,336.0 L130.3,336.0 L130.7,336.1 L131.1,336.1 L131.6,336.1 L132.0,336.1 L132.4,336.2 L132.9,336.2 L133.3,336.2 L133.7,336.3 L134.1,336.3 L134.6,336.4 L135.0,336.4 L135.4,336.5 L135.9,336.6 L136.3,336.7 L136.7,336.8 L137.1,336.9 L137.6,337.0 L138.0,337.2 L138.4,337.3 L138.9,337.5 L139.3,337.7 L139.7,337.9 L140.1,338.1 L140.6,338.4 L141.0,338.6 L141.4,338.9 L141.8,339.2 L142.3,339.5 L142.7,339.9 L143.1,340.2 L143.6,340.6 L144.0,341.0 L144.4,341.4 L144.8,341.9 L145.3,342.4 L145.7,342.8 L146.1,343.4 L146.6,343.9 L147.0,344.4 L147.4,345.0 L147.8,345.5 L148.3,346.1 L148.7,346.7 L149.1,347.3 L149.6,347.9 L150.0,348.5 L150.4,349.1 L150.8,349.7 L151.3,350.3 L151.7,350.9 L152.1,351.5 L152.5,352.1 L153.0,352.7 L153.4,353.3 L153.8,353.8 L154.3,354.4 L154.7,354.9 L155.1,355.4 L155.5,355.9 L156.0,356.4 L156.4,356.8 L156.8,357.3 L157.3,357.7 L157.7,358.1 L158.1,358.4 L158.5,358.8 L159.0,359.1 L159.4,359.4 L159.8,359.7 L160.3,360.0 L160.7,360.2 L161.1,360.5 L161.5,360.7 L162.0,360.9 L162.4,361.0 L162.8,361.2 L163.2,361.3 L163.7,361.5 L164.1,361.6 L164.5,361.7 L165.0,361.8 L165.4,361.9 L165.8,362.0 L166.2,362.0 L166.7,362.1 L167.1,362.2 L167.5,362.2 L168.0,362.2 L168.0,362.5 Z" fill="url(#hatchFD)"/></g>
<path d="M104.2,362.5 L104.2,362.3 L104.6,362.3 L105.0,362.2 L105.5,362.1 L105.9,361.9 L106.3,361.7 L106.8,361.5 L107.2,361.2 L107.6,360.8 L108.0,360.4 L108.5,359.9 L108.9,359.3 L109.3,358.6 L109.7,357.8 L110.2,356.9 L110.6,355.9 L111.0,354.9 L111.5,353.7 L111.9,352.5 L112.3,351.3 L112.7,350.0 L113.2,348.7 L113.6,347.4 L114.0,346.2 L114.5,345.0 L114.9,343.8 L115.3,342.7 L115.7,341.7 L116.2,340.8 L116.6,340.0 L117.0,339.3 L117.5,338.7 L117.9,338.1 L118.3,337.7 L118.7,337.3 L119.2,337.0 L119.6,336.8 L120.0,336.6 L120.4,336.4 L120.9,336.3 L121.3,336.2 L121.7,336.1 L122.2,336.1 L122.6,336.0 L123.0,336.0 L123.4,336.0 L123.9,336.0 L124.3,336.0 L124.7,336.0 L125.2,336.0 L125.6,336.0 L126.0,336.0 L126.4,336.0 L126.9,336.0 L127.3,336.0 L127.7,336.0 L128.2,336.0 L128.6,336.0 L129.0,336.0 L129.4,336.0 L129.9,336.0 L130.3,336.0 L130.7,336.1 L131.1,336.1 L131.6,336.1 L132.0,336.1 L132.4,336.2 L132.9,336.2 L133.3,336.2 L133.7,336.3 L134.1,336.3 L134.6,336.4 L135.0,336.4 L135.4,336.5 L135.9,336.6 L136.3,336.7 L136.7,336.8 L137.1,336.9 L137.6,337.0 L138.0,337.2 L138.4,337.3 L138.9,337.5 L139.3,337.7 L139.7,337.9 L140.1,338.1 L140.6,338.4 L141.0,338.6 L141.4,338.9 L141.8,339.2 L142.3,339.5 L142.7,339.9 L143.1,340.2 L143.6,340.6 L144.0,341.0 L144.4,341.4 L144.8,341.9 L145.3,342.4 L145.7,342.8 L146.1,343.4 L146.6,343.9 L147.0,344.4 L147.4,345.0 L147.8,345.5 L148.3,346.1 L148.7,346.7 L149.1,347.3 L149.6,347.9 L150.0,348.5 L150.4,349.1 L150.8,349.7 L151.3,350.3 L151.7,350.9 L152.1,351.5 L152.5,352.1 L153.0,352.7 L153.4,353.3 L153.8,353.8 L154.3,354.4 L154.7,354.9 L155.1,355.4 L155.5,355.9 L156.0,356.4 L156.4,356.8 L156.8,357.3 L157.3,357.7 L157.7,358.1 L158.1,358.4 L158.5,358.8 L159.0,359.1 L159.4,359.4 L159.8,359.7 L160.3,360.0 L160.7,360.2 L161.1,360.5 L161.5,360.7 L162.0,360.9 L162.4,361.0 L162.8,361.2 L163.2,361.3 L163.7,361.5 L164.1,361.6 L164.5,361.7 L165.0,361.8 L165.4,361.9 L165.8,362.0 L166.2,362.0 L166.7,362.1 L167.1,362.2 L167.5,362.2 L168.0,362.2 L168.0,362.5 Z" fill="none" stroke="#1a1a1a" stroke-width="0.75"/>
<path d="M95.0,361.8 L95.4,361.4 L95.8,361.1 L96.2,360.8 L96.6,360.5 L97.0,360.1 L97.4,359.7 L97.8,359.3 L98.2,358.7 L98.6,358.1 L99.0,357.5 L99.4,356.7 L99.8,355.9 L100.2,354.8 L100.6,353.6 L101.0,352.2 L101.4,350.7 L101.8,348.8 L102.2,346.7 L102.6,344.3 L103.0,341.6 L103.4,338.7 L103.8,335.4 L104.2,331.8 L104.6,327.7 L105.0,322.8 L105.4,317.4 L105.8,311.7 L106.2,306.0 L106.6,300.4 L107.0,294.8 L107.4,289.1 L107.8,283.4 L108.2,277.9 L108.6,272.4 L109.0,267.0 L109.4,261.7 L109.8,256.8 L110.2,252.5 L110.6,248.8 L111.0,245.6 L111.4,242.9 L111.8,240.7 L112.2,239.3 L112.6,238.6 L113.0,238.6 L113.4,239.3 L113.8,241.0 L114.2,243.9 L114.6,247.9 L115.0,252.7 L115.5,258.2 L115.9,264.7 L116.3,271.8 L116.7,278.9 L117.1,286.3 L117.5,293.8 L117.9,300.8 L118.3,306.7 L118.7,312.1 L119.1,316.8 L119.5,320.7 L119.9,323.7 L120.3,326.2 L120.7,328.1 L121.1,329.6 L121.5,330.8 L121.9,331.6 L122.3,332.3 L122.7,332.8 L123.1,333.1 L123.5,333.5 L123.9,333.8 L124.3,334.0 L124.7,334.2 L125.1,334.3 L125.5,334.5 L125.9,334.5 L126.3,334.6 L126.7,334.7 L127.1,334.8 L127.5,334.9 L127.9,335.0 L128.3,335.1 L128.7,335.2 L129.1,335.3 L129.5,335.4 L129.9,335.5 L130.3,335.5 L130.7,335.5 L131.1,335.5 L131.5,335.5 L131.9,335.4 L132.3,335.4 L132.7,335.3 L133.1,335.2 L133.5,335.1 L133.9,334.9 L134.3,334.6 L134.7,334.3 L135.1,334.0 L135.5,333.6 L135.9,333.2 L136.3,332.7 L136.7,332.0 L137.1,331.3 L137.5,330.5 L137.9,329.5 L138.3,328.5 L138.7,327.4 L139.1,326.2 L139.5,324.9 L139.9,323.4 L140.3,321.8 L140.7,320.0 L141.1,318.1 L141.5,316.0 L141.9,313.7 L142.3,311.4 L142.7,309.0 L143.1,306.7 L143.5,304.4 L143.9,302.1 L144.3,299.7 L144.7,297.4 L145.1,295.0 L145.5,292.6 L145.9,290.3 L146.3,288.0 L146.7,285.7 L147.1,283.4 L147.5,281.1 L147.9,278.9 L148.3,276.9 L148.7,275.1 L149.1,273.5 L149.5,272.3 L149.9,271.3 L150.3,270.6 L150.7,270.1 L151.1,269.8 L151.5,269.8 L151.9,270.1 L152.3,270.7 L152.7,271.5 L153.1,272.5 L153.5,273.8 L153.9,275.2 L154.3,277.0 L154.7,278.9 L155.1,281.1 L155.5,283.6 L156.0,286.6 L156.4,289.9 L156.8,293.1 L157.2,296.1 L157.6,299.0 L158.0,301.9 L158.4,304.7 L158.8,307.5 L159.2,310.2 L159.6,312.9 L160.0,315.5 L160.4,318.1 L160.8,320.6 L161.2,323.1 L161.6,325.6 L162.0,327.9 L162.4,330.2 L162.8,332.5 L163.2,334.7 L163.6,336.8 L164.0,338.9 L164.4,340.9 L164.8,342.8 L165.2,344.6 L165.6,346.3 L166.0,347.9 L166.4,349.3 L166.8,350.7 L167.2,352.0 L167.6,353.2 L168.0,354.3 L168.4,355.2 L168.8,356.1 L169.2,356.9 L169.6,357.6 L170.0,358.2 L170.4,358.8 L170.8,359.3 L171.2,359.7 L171.6,360.1 L172.0,360.5 L172.4,360.8 L172.8,361.0 L173.2,361.2 L173.6,361.3 L174.0,361.4 L174.4,361.5 L174.8,361.5 L175.2,361.6 L175.6,361.7 L176.0,361.8" fill="none" stroke="#1a1a1a" stroke-width="0.85" stroke-linejoin="round"/>
<path d="M95.5,361.8 L96.3,361.6 L97.1,361.3 L97.9,360.0 L98.7,356.3 L99.5,353.2 L100.3,351.3 L101.1,350.5 L101.9,348.1 L102.7,344.6 L103.5,337.9 L104.3,330.8 L105.1,321.2 L105.9,307.8 L106.7,296.2 L107.5,285.5 L108.3,275.4 L109.1,267.2 L109.9,259.0 L110.7,250.3 L111.5,241.6 L112.3,231.7 L113.1,230.4 L114.0,232.7 L114.8,238.4 L115.6,252.7 L116.4,270.9 L117.2,287.5 L118.0,302.3 L118.8,313.6 L119.6,322.3 L120.4,326.8 L121.2,329.5 L122.0,330.7 L122.8,332.4 L123.6,331.5 L124.4,328.7 L125.2,326.8 L126.0,327.9 L126.8,325.6 L127.6,324.0 L128.4,326.7 L129.2,332.1 L130.0,333.6 L130.8,334.1 L131.6,333.2 L132.4,332.3 L133.2,331.2 L134.0,331.3 L134.8,331.1 L135.6,331.0 L136.4,328.9 L137.2,327.7 L138.0,326.6 L138.8,325.4 L139.6,324.1 L140.4,317.2 L141.2,312.1 L142.0,312.9 L142.8,307.0 L143.6,298.6 L144.4,293.2 L145.2,291.3 L146.0,284.3 L146.8,275.9 L147.6,266.4 L148.4,254.3 L149.2,246.0 L150.1,252.1 L150.9,259.0 L151.7,254.8 L152.5,248.3 L153.3,251.9 L154.1,259.0 L154.9,267.6 L155.7,278.1 L156.5,287.0 L157.3,294.5 L158.1,299.5 L158.9,305.5 L159.7,308.4 L160.5,313.2 L161.3,318.8 L162.1,325.4 L162.9,330.1 L163.7,334.7 L164.5,339.5 L165.3,343.6 L166.1,346.4 L166.9,349.3 L167.7,352.4 L168.5,354.6 L169.3,356.4 L170.1,357.4 L170.9,358.8 L171.7,359.6 L172.5,359.6 L173.3,360.6 L174.1,360.6 L174.9,360.6 L175.7,361.2 L176.5,360.8 L177.3,360.7 L178.1,360.9 L178.9,361.1 L179.7,361.2 L180.5,361.0 L181.3,360.9 L182.1,361.0 L182.9,361.0 L183.7,360.9 L184.5,361.2 L185.4,361.1 L186.2,361.2 L187.0,361.1 L187.8,361.1 L188.6,361.2 L189.4,361.2 L190.2,361.5 L191.0,361.1 L191.8,361.4 L192.6,361.3 L193.4,361.0 L194.2,361.6 L195.0,361.4 L195.8,360.9 L196.6,361.6 L197.4,361.8 L198.2,361.4 L199.0,362.1 L199.8,361.7 L200.6,361.4 L201.4,361.9 L202.2,361.8 L203.0,361.6" fill="none" stroke="#1a1a1a" stroke-width="0.85" stroke-linejoin="round"/>
<path d="M70.8,228.8 V362.5 H223.8" fill="none" stroke="#1a1a1a" stroke-width="1.1"/>
<path d="M66.0,362.5 H70.8" stroke="#1a1a1a" stroke-width="0.9"/>
<text x="65.9" y="361.7" font-size="8.2"  text-anchor="middle" transform="rotate(-90 65.9 361.7)" stroke="#111" stroke-width="0.3">0</text>
<path d="M66.0,335.9 H70.8" stroke="#1a1a1a" stroke-width="0.9"/>
<text x="65.9" y="335.1" font-size="8.2"  text-anchor="middle" transform="rotate(-90 65.9 335.1)" stroke="#111" stroke-width="0.3">100</text>
<path d="M66.0,309.4 H70.8" stroke="#1a1a1a" stroke-width="0.9"/>
<text x="65.9" y="308.6" font-size="8.2"  text-anchor="middle" transform="rotate(-90 65.9 308.6)" stroke="#111" stroke-width="0.3">200</text>
<path d="M66.0,282.9 H70.8" stroke="#1a1a1a" stroke-width="0.9"/>
<text x="65.9" y="282.1" font-size="8.2"  text-anchor="middle" transform="rotate(-90 65.9 282.1)" stroke="#111" stroke-width="0.3">300</text>
<path d="M66.0,256.3 H70.8" stroke="#1a1a1a" stroke-width="0.9"/>
<text x="65.9" y="255.5" font-size="8.2"  text-anchor="middle" transform="rotate(-90 65.9 255.5)" stroke="#111" stroke-width="0.3">400</text>
<path d="M68.39999999999999,362.5 H70.8" stroke="#1a1a1a" stroke-width="0.8"/>
<path d="M68.39999999999999,357.2 H70.8" stroke="#1a1a1a" stroke-width="0.8"/>
<path d="M68.39999999999999,351.9 H70.8" stroke="#1a1a1a" stroke-width="0.8"/>
<path d="M68.39999999999999,346.6 H70.8" stroke="#1a1a1a" stroke-width="0.8"/>
<path d="M68.39999999999999,341.3 H70.8" stroke="#1a1a1a" stroke-width="0.8"/>
<path d="M68.39999999999999,335.9 H70.8" stroke="#1a1a1a" stroke-width="0.8"/>
<path d="M68.39999999999999,330.6 H70.8" stroke="#1a1a1a" stroke-width="0.8"/>
<path d="M68.39999999999999,325.3 H70.8" stroke="#1a1a1a" stroke-width="0.8"/>
<path d="M68.39999999999999,320.0 H70.8" stroke="#1a1a1a" stroke-width="0.8"/>
<path d="M68.39999999999999,314.7 H70.8" stroke="#1a1a1a" stroke-width="0.8"/>
<path d="M68.39999999999999,309.4 H70.8" stroke="#1a1a1a" stroke-width="0.8"/>
<path d="M68.39999999999999,304.1 H70.8" stroke="#1a1a1a" stroke-width="0.8"/>
<path d="M68.39999999999999,298.8 H70.8" stroke="#1a1a1a" stroke-width="0.8"/>
<path d="M68.39999999999999,293.5 H70.8" stroke="#1a1a1a" stroke-width="0.8"/>
<path d="M68.39999999999999,288.2 H70.8" stroke="#1a1a1a" stroke-width="0.8"/>
<path d="M68.39999999999999,282.9 H70.8" stroke="#1a1a1a" stroke-width="0.8"/>
<path d="M68.39999999999999,277.5 H70.8" stroke="#1a1a1a" stroke-width="0.8"/>
<path d="M68.39999999999999,272.2 H70.8" stroke="#1a1a1a" stroke-width="0.8"/>
<path d="M68.39999999999999,266.9 H70.8" stroke="#1a1a1a" stroke-width="0.8"/>
<path d="M68.39999999999999,261.6 H70.8" stroke="#1a1a1a" stroke-width="0.8"/>
<path d="M68.39999999999999,256.3 H70.8" stroke="#1a1a1a" stroke-width="0.8"/>
<path d="M68.39999999999999,251.0 H70.8" stroke="#1a1a1a" stroke-width="0.8"/>
<path d="M68.39999999999999,245.7 H70.8" stroke="#1a1a1a" stroke-width="0.8"/>
<path d="M68.39999999999999,240.4 H70.8" stroke="#1a1a1a" stroke-width="0.8"/>
<path d="M68.39999999999999,235.1 H70.8" stroke="#1a1a1a" stroke-width="0.8"/>
<path d="M68.39999999999999,229.8 H70.8" stroke="#1a1a1a" stroke-width="0.8"/>
<path d="M70.8,362.5 V366.5" stroke="#1a1a1a" stroke-width="0.9"/>
<text x="70.8" y="374.2" font-size="8.2"  text-anchor="middle"  stroke="#111" stroke-width="0.3">0</text>
<path d="M105.0,362.5 V366.5" stroke="#1a1a1a" stroke-width="0.9"/>
<text x="105.0" y="374.2" font-size="8.2"  text-anchor="middle"  stroke="#111" stroke-width="0.3">40</text>
<path d="M139.3,362.5 V366.5" stroke="#1a1a1a" stroke-width="0.9"/>
<text x="139.3" y="374.2" font-size="8.2"  text-anchor="middle"  stroke="#111" stroke-width="0.3">80</text>
<path d="M173.5,362.5 V366.5" stroke="#1a1a1a" stroke-width="0.9"/>
<text x="173.5" y="374.2" font-size="8.2"  text-anchor="middle"  stroke="#111" stroke-width="0.3">120</text>
<path d="M207.8,362.5 V366.5" stroke="#1a1a1a" stroke-width="0.9"/>
<text x="207.8" y="374.2" font-size="8.2"  text-anchor="middle"  stroke="#111" stroke-width="0.3">160</text>
<path d="M70.8,362.5 V364.7" stroke="#1a1a1a" stroke-width="0.8"/>
<path d="M77.6,362.5 V364.7" stroke="#1a1a1a" stroke-width="0.8"/>
<path d="M84.5,362.5 V364.7" stroke="#1a1a1a" stroke-width="0.8"/>
<path d="M91.3,362.5 V364.7" stroke="#1a1a1a" stroke-width="0.8"/>
<path d="M98.2,362.5 V364.7" stroke="#1a1a1a" stroke-width="0.8"/>
<path d="M105.0,362.5 V364.7" stroke="#1a1a1a" stroke-width="0.8"/>
<path d="M111.9,362.5 V364.7" stroke="#1a1a1a" stroke-width="0.8"/>
<path d="M118.7,362.5 V364.7" stroke="#1a1a1a" stroke-width="0.8"/>
<path d="M125.6,362.5 V364.7" stroke="#1a1a1a" stroke-width="0.8"/>
<path d="M132.4,362.5 V364.7" stroke="#1a1a1a" stroke-width="0.8"/>
<path d="M139.3,362.5 V364.7" stroke="#1a1a1a" stroke-width="0.8"/>
<path d="M146.1,362.5 V364.7" stroke="#1a1a1a" stroke-width="0.8"/>
<path d="M153.0,362.5 V364.7" stroke="#1a1a1a" stroke-width="0.8"/>
<path d="M159.8,362.5 V364.7" stroke="#1a1a1a" stroke-width="0.8"/>
<path d="M166.7,362.5 V364.7" stroke="#1a1a1a" stroke-width="0.8"/>
<path d="M173.5,362.5 V364.7" stroke="#1a1a1a" stroke-width="0.8"/>
<path d="M180.4,362.5 V364.7" stroke="#1a1a1a" stroke-width="0.8"/>
<path d="M187.2,362.5 V364.7" stroke="#1a1a1a" stroke-width="0.8"/>
<path d="M194.1,362.5 V364.7" stroke="#1a1a1a" stroke-width="0.8"/>
<path d="M200.9,362.5 V364.7" stroke="#1a1a1a" stroke-width="0.8"/>
<path d="M207.8,362.5 V364.7" stroke="#1a1a1a" stroke-width="0.8"/>
<path d="M214.6,362.5 V364.7" stroke="#1a1a1a" stroke-width="0.8"/>
<path d="M221.5,362.5 V364.7" stroke="#1a1a1a" stroke-width="0.8"/>
<path d="M113.4,363.1 l2.5,4.2 h-5 Z" fill="#111"/>
<path d="M151.3,363.1 l2.5,4.2 h-5 Z" fill="#111"/>
<text x="51.8" y="296" font-size="10.3"  text-anchor="middle" transform="rotate(-90 51.8 296)" stroke="#111" stroke-width="0.3">Number</text>
<text x="147.3" y="385.2" font-size="10.1"  text-anchor="middle"  stroke="#111" stroke-width="0.3">Channels</text>
<clipPath id="cpd"><path d="M361.4,361.0 L361.4,360.9 L362.1,360.8 L362.7,360.6 L363.4,360.2 L364.0,359.6 L364.7,358.6 L365.3,357.1 L366.0,354.7 L366.6,351.3 L367.3,346.4 L367.9,339.9 L368.5,331.5 L369.2,321.1 L369.8,309.0 L370.5,295.7 L371.1,282.2 L371.8,269.8 L372.4,260.3 L373.1,255.6 L373.7,258.9 L374.4,267.6 L375.0,279.6 L375.6,293.0 L376.3,306.4 L376.9,318.8 L377.6,329.5 L378.2,338.4 L378.9,345.3 L379.5,350.4 L380.2,354.1 L380.8,356.7 L381.4,358.4 L382.1,359.4 L382.7,360.1 L383.4,360.5 L384.0,360.7 L384.7,360.9 L384.7,361.0 Z"/><path d="M405.3,361.0 L405.3,360.9 L406.0,360.8 L406.6,360.6 L407.2,360.4 L407.9,360.1 L408.5,359.7 L409.2,359.1 L409.8,358.2 L410.5,357.0 L411.1,355.4 L411.8,353.4 L412.4,350.9 L413.1,347.8 L413.7,344.1 L414.3,339.8 L415.0,334.9 L415.6,329.5 L416.3,323.6 L416.9,317.6 L417.6,311.5 L418.2,305.5 L418.9,300.0 L419.5,295.0 L420.1,290.9 L420.8,287.7 L421.4,285.5 L422.1,284.4 L422.7,284.3 L423.4,285.0 L424.0,286.7 L424.7,289.5 L425.3,293.3 L426.0,297.9 L426.6,303.3 L427.2,309.1 L427.9,315.1 L428.5,321.2 L429.2,327.2 L429.8,332.8 L430.5,337.9 L431.1,342.4 L431.8,346.4 L432.4,349.7 L433.0,352.5 L433.7,354.7 L434.3,356.4 L435.0,357.7 L435.6,358.7 L436.3,359.5 L436.9,360.0 L437.6,360.3 L438.2,360.6 L438.9,360.7 L439.5,360.8 L439.5,361.0 Z"/></clipPath>
<path d="M373.7,361.0 L373.7,361.0 L374.4,360.9 L375.0,360.6 L375.6,360.1 L376.3,359.2 L376.9,358.0 L377.6,356.6 L378.2,355.2 L378.9,354.1 L379.5,353.4 L380.2,353.0 L380.8,352.8 L381.4,352.7 L382.1,352.7 L382.7,352.7 L383.4,352.7 L384.0,352.7 L384.7,352.7 L385.3,352.7 L386.0,352.7 L386.6,352.7 L387.2,352.7 L387.9,352.7 L388.5,352.7 L389.2,352.7 L389.8,352.7 L390.5,352.7 L391.1,352.7 L391.8,352.7 L392.4,352.7 L393.1,352.7 L393.7,352.7 L394.3,352.7 L395.0,352.7 L395.6,352.7 L396.3,352.7 L396.9,352.7 L397.6,352.7 L398.2,352.7 L398.9,352.7 L399.5,352.7 L400.2,352.7 L400.8,352.7 L401.4,352.7 L402.1,352.7 L402.7,352.7 L403.4,352.7 L404.0,352.7 L404.7,352.7 L405.3,352.8 L406.0,352.8 L406.6,352.8 L407.2,352.9 L407.9,353.0 L408.5,353.1 L409.2,353.3 L409.8,353.5 L410.5,353.7 L411.1,354.1 L411.8,354.4 L412.4,354.9 L413.1,355.4 L413.7,355.9 L414.3,356.5 L415.0,357.1 L415.6,357.7 L416.3,358.2 L416.9,358.7 L417.6,359.2 L418.2,359.6 L418.9,359.9 L419.5,360.2 L420.1,360.4 L420.8,360.6 L421.4,360.7 L422.1,360.8 L422.1,361.0 Z" fill="url(#hatchB)" stroke="none"/>
<path d="M358,361.5 L359.5,359.2 L365.5,358.6 L368,361.5 Z" fill="#3d3d3d" stroke="#1a1a1a" stroke-width="0.6"/>
<path d="M361.4,361.0 L361.4,360.9 L362.1,360.8 L362.7,360.6 L363.4,360.2 L364.0,359.6 L364.7,358.6 L365.3,357.1 L366.0,354.7 L366.6,351.3 L367.3,346.4 L367.9,339.9 L368.5,331.5 L369.2,321.1 L369.8,309.0 L370.5,295.7 L371.1,282.2 L371.8,269.8 L372.4,260.3 L373.1,255.6 L373.7,258.9 L374.4,267.6 L375.0,279.6 L375.6,293.0 L376.3,306.4 L376.9,318.8 L377.6,329.5 L378.2,338.4 L378.9,345.3 L379.5,350.4 L380.2,354.1 L380.8,356.7 L381.4,358.4 L382.1,359.4 L382.7,360.1 L383.4,360.5 L384.0,360.7 L384.7,360.9 L384.7,361.0 Z" fill="#3d3d3d" stroke="#1a1a1a" stroke-width="0.8"/>
<path d="M405.3,361.0 L405.3,360.9 L406.0,360.8 L406.6,360.6 L407.2,360.4 L407.9,360.1 L408.5,359.7 L409.2,359.1 L409.8,358.2 L410.5,357.0 L411.1,355.4 L411.8,353.4 L412.4,350.9 L413.1,347.8 L413.7,344.1 L414.3,339.8 L415.0,334.9 L415.6,329.5 L416.3,323.6 L416.9,317.6 L417.6,311.5 L418.2,305.5 L418.9,300.0 L419.5,295.0 L420.1,290.9 L420.8,287.7 L421.4,285.5 L422.1,284.4 L422.7,284.3 L423.4,285.0 L424.0,286.7 L424.7,289.5 L425.3,293.3 L426.0,297.9 L426.6,303.3 L427.2,309.1 L427.9,315.1 L428.5,321.2 L429.2,327.2 L429.8,332.8 L430.5,337.9 L431.1,342.4 L431.8,346.4 L432.4,349.7 L433.0,352.5 L433.7,354.7 L434.3,356.4 L435.0,357.7 L435.6,358.7 L436.3,359.5 L436.9,360.0 L437.6,360.3 L438.2,360.6 L438.9,360.7 L439.5,360.8 L439.5,361.0 Z" fill="#595959" stroke="#1a1a1a" stroke-width="0.8"/>
<g clip-path="url(#cpd)"><path d="M373.7,361.0 L373.7,361.0 L374.4,360.9 L375.0,360.6 L375.6,360.1 L376.3,359.2 L376.9,358.0 L377.6,356.6 L378.2,355.2 L378.9,354.1 L379.5,353.4 L380.2,353.0 L380.8,352.8 L381.4,352.7 L382.1,352.7 L382.7,352.7 L383.4,352.7 L384.0,352.7 L384.7,352.7 L385.3,352.7 L386.0,352.7 L386.6,352.7 L387.2,352.7 L387.9,352.7 L388.5,352.7 L389.2,352.7 L389.8,352.7 L390.5,352.7 L391.1,352.7 L391.8,352.7 L392.4,352.7 L393.1,352.7 L393.7,352.7 L394.3,352.7 L395.0,352.7 L395.6,352.7 L396.3,352.7 L396.9,352.7 L397.6,352.7 L398.2,352.7 L398.9,352.7 L399.5,352.7 L400.2,352.7 L400.8,352.7 L401.4,352.7 L402.1,352.7 L402.7,352.7 L403.4,352.7 L404.0,352.7 L404.7,352.7 L405.3,352.8 L406.0,352.8 L406.6,352.8 L407.2,352.9 L407.9,353.0 L408.5,353.1 L409.2,353.3 L409.8,353.5 L410.5,353.7 L411.1,354.1 L411.8,354.4 L412.4,354.9 L413.1,355.4 L413.7,355.9 L414.3,356.5 L415.0,357.1 L415.6,357.7 L416.3,358.2 L416.9,358.7 L417.6,359.2 L418.2,359.6 L418.9,359.9 L419.5,360.2 L420.1,360.4 L420.8,360.6 L421.4,360.7 L422.1,360.8 L422.1,361.0 Z" fill="#000" fill-opacity="0.2"/><path d="M373.7,361.0 L373.7,361.0 L374.4,360.9 L375.0,360.6 L375.6,360.1 L376.3,359.2 L376.9,358.0 L377.6,356.6 L378.2,355.2 L378.9,354.1 L379.5,353.4 L380.2,353.0 L380.8,352.8 L381.4,352.7 L382.1,352.7 L382.7,352.7 L383.4,352.7 L384.0,352.7 L384.7,352.7 L385.3,352.7 L386.0,352.7 L386.6,352.7 L387.2,352.7 L387.9,352.7 L388.5,352.7 L389.2,352.7 L389.8,352.7 L390.5,352.7 L391.1,352.7 L391.8,352.7 L392.4,352.7 L393.1,352.7 L393.7,352.7 L394.3,352.7 L395.0,352.7 L395.6,352.7 L396.3,352.7 L396.9,352.7 L397.6,352.7 L398.2,352.7 L398.9,352.7 L399.5,352.7 L400.2,352.7 L400.8,352.7 L401.4,352.7 L402.1,352.7 L402.7,352.7 L403.4,352.7 L404.0,352.7 L404.7,352.7 L405.3,352.8 L406.0,352.8 L406.6,352.8 L407.2,352.9 L407.9,353.0 L408.5,353.1 L409.2,353.3 L409.8,353.5 L410.5,353.7 L411.1,354.1 L411.8,354.4 L412.4,354.9 L413.1,355.4 L413.7,355.9 L414.3,356.5 L415.0,357.1 L415.6,357.7 L416.3,358.2 L416.9,358.7 L417.6,359.2 L418.2,359.6 L418.9,359.9 L419.5,360.2 L420.1,360.4 L420.8,360.6 L421.4,360.7 L422.1,360.8 L422.1,361.0 Z" fill="url(#hatchBD)"/></g>
<path d="M373.7,361.0 L373.7,361.0 L374.4,360.9 L375.0,360.6 L375.6,360.1 L376.3,359.2 L376.9,358.0 L377.6,356.6 L378.2,355.2 L378.9,354.1 L379.5,353.4 L380.2,353.0 L380.8,352.8 L381.4,352.7 L382.1,352.7 L382.7,352.7 L383.4,352.7 L384.0,352.7 L384.7,352.7 L385.3,352.7 L386.0,352.7 L386.6,352.7 L387.2,352.7 L387.9,352.7 L388.5,352.7 L389.2,352.7 L389.8,352.7 L390.5,352.7 L391.1,352.7 L391.8,352.7 L392.4,352.7 L393.1,352.7 L393.7,352.7 L394.3,352.7 L395.0,352.7 L395.6,352.7 L396.3,352.7 L396.9,352.7 L397.6,352.7 L398.2,352.7 L398.9,352.7 L399.5,352.7 L400.2,352.7 L400.8,352.7 L401.4,352.7 L402.1,352.7 L402.7,352.7 L403.4,352.7 L404.0,352.7 L404.7,352.7 L405.3,352.8 L406.0,352.8 L406.6,352.8 L407.2,352.9 L407.9,353.0 L408.5,353.1 L409.2,353.3 L409.8,353.5 L410.5,353.7 L411.1,354.1 L411.8,354.4 L412.4,354.9 L413.1,355.4 L413.7,355.9 L414.3,356.5 L415.0,357.1 L415.6,357.7 L416.3,358.2 L416.9,358.7 L417.6,359.2 L418.2,359.6 L418.9,359.9 L419.5,360.2 L420.1,360.4 L420.8,360.6 L421.4,360.7 L422.1,360.8 L422.1,361.0 Z" fill="none" stroke="#1a1a1a" stroke-width="0.75"/>
<path d="M357.5,361.3 L357.9,360.8 L358.3,360.2 L358.7,359.7 L359.1,359.3 L359.5,359.0 L359.9,358.9 L360.3,358.8 L360.7,358.8 L361.1,358.8 L361.5,358.9 L361.9,358.9 L362.3,359.0 L362.7,359.0 L363.1,358.9 L363.5,358.8 L363.9,358.7 L364.3,358.4 L364.7,358.1 L365.1,357.6 L365.5,356.7 L365.9,355.4 L366.3,353.6 L366.7,351.4 L367.1,348.8 L367.5,345.7 L367.9,341.9 L368.3,337.2 L368.7,331.4 L369.1,324.8 L369.5,317.6 L369.9,309.7 L370.3,300.8 L370.7,291.5 L371.1,282.4 L371.5,272.8 L371.9,263.5 L372.3,256.0 L372.7,250.6 L373.1,248.5 L373.5,250.9 L373.9,256.6 L374.3,264.4 L374.7,273.8 L375.1,283.3 L375.5,291.9 L375.9,300.5 L376.3,308.7 L376.7,316.4 L377.1,323.7 L377.5,330.6 L377.9,336.6 L378.3,341.3 L378.7,344.6 L379.1,347.0 L379.5,348.6 L379.9,349.8 L380.3,350.6 L380.7,351.0 L381.1,351.2 L381.5,351.2 L381.9,351.2 L382.3,351.3 L382.7,351.3 L383.1,351.4 L383.5,351.4 L383.9,351.5 L384.3,351.5 L384.7,351.5 L385.1,351.6 L385.5,351.6 L385.9,351.6 L386.3,351.6 L386.7,351.6 L387.1,351.6 L387.5,351.6 L387.9,351.6 L388.3,351.6 L388.7,351.6 L389.1,351.6 L389.5,351.6 L389.9,351.6 L390.3,351.6 L390.7,351.6 L391.1,351.6 L391.5,351.6 L391.9,351.7 L392.3,351.7 L392.7,351.7 L393.1,351.7 L393.5,351.7 L393.9,351.7 L394.3,351.7 L394.7,351.7 L395.1,351.7 L395.5,351.7 L395.9,351.7 L396.3,351.7 L396.7,351.7 L397.1,351.7 L397.5,351.7 L397.9,351.7 L398.3,351.6 L398.7,351.6 L399.1,351.6 L399.5,351.5 L399.9,351.5 L400.3,351.4 L400.8,351.4 L401.2,351.3 L401.6,351.2 L402.0,351.1 L402.4,351.0 L402.8,350.9 L403.2,350.8 L403.6,350.7 L404.0,350.5 L404.4,350.4 L404.8,350.2 L405.2,350.0 L405.6,349.8 L406.0,349.6 L406.4,349.4 L406.8,349.2 L407.2,348.9 L407.6,348.6 L408.0,348.2 L408.4,347.8 L408.8,347.3 L409.2,346.8 L409.6,346.2 L410.0,345.5 L410.4,344.7 L410.8,343.9 L411.2,342.9 L411.6,341.9 L412.0,340.7 L412.4,339.4 L412.8,338.0 L413.2,336.4 L413.6,334.6 L414.0,332.7 L414.4,330.6 L414.8,328.3 L415.2,325.8 L415.6,323.1 L416.0,320.2 L416.4,317.0 L416.8,313.3 L417.2,309.5 L417.6,305.7 L418.0,302.2 L418.4,299.1 L418.8,296.2 L419.2,293.5 L419.6,291.0 L420.0,288.7 L420.4,286.7 L420.8,285.2 L421.2,283.9 L421.6,282.8 L422.0,282.1 L422.4,281.8 L422.8,281.8 L423.2,282.2 L423.6,283.3 L424.0,284.8 L424.4,286.6 L424.8,288.6 L425.2,290.9 L425.6,293.3 L426.0,295.8 L426.4,298.5 L426.8,301.2 L427.2,304.0 L427.6,306.9 L428.0,309.9 L428.4,313.0 L428.8,316.3 L429.2,319.5 L429.6,322.6 L430.0,325.7 L430.4,328.8 L430.8,331.9 L431.2,334.8 L431.6,337.6 L432.0,340.3 L432.4,343.0 L432.8,345.6 L433.2,348.0 L433.6,350.1 L434.0,351.8 L434.4,353.2 L434.8,354.4 L435.2,355.4 L435.6,356.3 L436.0,357.1 L436.4,357.8 L436.8,358.5 L437.2,359.0 L437.6,359.5 L438.0,359.9 L438.4,360.2 L438.8,360.4 L439.2,360.7 L439.6,360.8 L440.0,361.0 L440.4,361.1 L440.8,361.2 L441.2,361.2 L441.6,361.2 L442.0,361.2 L442.4,361.2 L442.8,361.2 L443.2,361.2 L443.6,361.3 L444.0,361.3" fill="none" stroke="#1a1a1a" stroke-width="0.85" stroke-linejoin="round"/>
<path d="M357.0,360.8 L357.8,359.9 L358.6,358.8 L359.4,358.5 L360.2,358.8 L361.0,358.6 L361.8,358.4 L362.6,358.6 L363.4,358.3 L364.2,357.8 L365.0,356.7 L365.8,353.7 L366.6,349.8 L367.4,342.9 L368.2,332.9 L369.0,319.7 L369.8,303.5 L370.6,287.0 L371.4,267.9 L372.2,252.7 L373.0,244.1 L373.8,250.4 L374.6,264.1 L375.4,283.4 L376.2,300.9 L377.0,316.9 L377.8,330.9 L378.6,341.1 L379.4,345.8 L380.2,348.9 L381.0,350.8 L381.8,350.8 L382.6,350.5 L383.5,351.0 L384.3,350.7 L385.1,350.8 L385.9,350.7 L386.7,350.9 L387.5,351.5 L388.3,351.0 L389.1,350.9 L389.9,351.5 L390.7,350.8 L391.5,350.9 L392.3,350.8 L393.1,351.0 L393.9,350.7 L394.7,351.0 L395.5,350.3 L396.3,350.3 L397.1,349.9 L397.9,349.3 L398.7,349.0 L399.5,348.9 L400.3,348.0 L401.1,348.2 L401.9,347.9 L402.7,347.5 L403.5,347.1 L404.3,346.6 L405.1,345.0 L405.9,343.2 L406.7,340.8 L407.5,344.4 L408.3,343.9 L409.1,341.4 L409.9,339.5 L410.7,338.0 L411.5,336.5 L412.3,335.6 L413.1,332.3 L413.9,329.6 L414.7,327.2 L415.5,323.7 L416.3,317.8 L417.1,309.3 L417.9,301.5 L418.7,295.7 L419.5,289.4 L420.3,285.7 L421.1,283.1 L421.9,281.0 L422.7,280.0 L423.5,282.4 L424.3,285.1 L425.1,289.5 L425.9,294.1 L426.7,299.1 L427.5,305.0 L428.3,311.2 L429.1,317.3 L429.9,323.8 L430.7,330.2 L431.5,335.5 L432.3,340.5 L433.1,345.9 L433.9,350.1 L434.7,353.2 L435.5,355.1 L436.4,356.6 L437.2,358.4 L438.0,359.2 L438.8,359.7 L439.6,360.2 L440.4,360.2 L441.2,360.3 L442.0,360.8 L442.8,360.2 L443.6,360.8 L444.4,360.8 L445.2,360.8 L446.0,360.8 L446.8,360.8 L447.6,360.5 L448.4,360.8 L449.2,360.3 L450.0,360.7 L450.8,360.8 L451.6,360.8 L452.4,360.8 L453.2,360.8 L454.0,360.6 L454.8,360.8 L455.6,360.8 L456.4,360.8 L457.2,360.8 L458.0,360.8 L458.8,360.8 L459.6,360.8 L460.4,360.8 L461.2,360.8 L462.0,360.8" fill="none" stroke="#1a1a1a" stroke-width="0.85" stroke-linejoin="round"/>
<path d="M316.3,228.8 V361.0 H471.5" fill="none" stroke="#1a1a1a" stroke-width="1.1"/>
<path d="M311.5,361.0 H316.3" stroke="#1a1a1a" stroke-width="0.9"/>
<text x="311.4" y="361.4" font-size="8.2"  text-anchor="middle" transform="rotate(-90 311.4 361.4)" stroke="#111" stroke-width="0.3">0</text>
<path d="M311.5,334.3 H316.3" stroke="#1a1a1a" stroke-width="0.9"/>
<text x="311.4" y="334.7" font-size="8.2"  text-anchor="middle" transform="rotate(-90 311.4 334.7)" stroke="#111" stroke-width="0.3">200</text>
<path d="M311.5,307.6 H316.3" stroke="#1a1a1a" stroke-width="0.9"/>
<text x="311.4" y="308.0" font-size="8.2"  text-anchor="middle" transform="rotate(-90 311.4 308.0)" stroke="#111" stroke-width="0.3">400</text>
<path d="M311.5,280.9 H316.3" stroke="#1a1a1a" stroke-width="0.9"/>
<text x="311.4" y="281.3" font-size="8.2"  text-anchor="middle" transform="rotate(-90 311.4 281.3)" stroke="#111" stroke-width="0.3">600</text>
<path d="M311.5,254.2 H316.3" stroke="#1a1a1a" stroke-width="0.9"/>
<text x="311.4" y="254.6" font-size="8.2"  text-anchor="middle" transform="rotate(-90 311.4 254.6)" stroke="#111" stroke-width="0.3">800</text>
<path d="M313.90000000000003,361.0 H316.3" stroke="#1a1a1a" stroke-width="0.8"/>
<path d="M313.90000000000003,355.7 H316.3" stroke="#1a1a1a" stroke-width="0.8"/>
<path d="M313.90000000000003,350.3 H316.3" stroke="#1a1a1a" stroke-width="0.8"/>
<path d="M313.90000000000003,345.0 H316.3" stroke="#1a1a1a" stroke-width="0.8"/>
<path d="M313.90000000000003,339.6 H316.3" stroke="#1a1a1a" stroke-width="0.8"/>
<path d="M313.90000000000003,334.3 H316.3" stroke="#1a1a1a" stroke-width="0.8"/>
<path d="M313.90000000000003,329.0 H316.3" stroke="#1a1a1a" stroke-width="0.8"/>
<path d="M313.90000000000003,323.6 H316.3" stroke="#1a1a1a" stroke-width="0.8"/>
<path d="M313.90000000000003,318.3 H316.3" stroke="#1a1a1a" stroke-width="0.8"/>
<path d="M313.90000000000003,312.9 H316.3" stroke="#1a1a1a" stroke-width="0.8"/>
<path d="M313.90000000000003,307.6 H316.3" stroke="#1a1a1a" stroke-width="0.8"/>
<path d="M313.90000000000003,302.3 H316.3" stroke="#1a1a1a" stroke-width="0.8"/>
<path d="M313.90000000000003,296.9 H316.3" stroke="#1a1a1a" stroke-width="0.8"/>
<path d="M313.90000000000003,291.6 H316.3" stroke="#1a1a1a" stroke-width="0.8"/>
<path d="M313.90000000000003,286.2 H316.3" stroke="#1a1a1a" stroke-width="0.8"/>
<path d="M313.90000000000003,280.9 H316.3" stroke="#1a1a1a" stroke-width="0.8"/>
<path d="M313.90000000000003,275.6 H316.3" stroke="#1a1a1a" stroke-width="0.8"/>
<path d="M313.90000000000003,270.2 H316.3" stroke="#1a1a1a" stroke-width="0.8"/>
<path d="M313.90000000000003,264.9 H316.3" stroke="#1a1a1a" stroke-width="0.8"/>
<path d="M313.90000000000003,259.5 H316.3" stroke="#1a1a1a" stroke-width="0.8"/>
<path d="M313.90000000000003,254.2 H316.3" stroke="#1a1a1a" stroke-width="0.8"/>
<path d="M313.90000000000003,248.9 H316.3" stroke="#1a1a1a" stroke-width="0.8"/>
<path d="M313.90000000000003,243.5 H316.3" stroke="#1a1a1a" stroke-width="0.8"/>
<path d="M313.90000000000003,238.2 H316.3" stroke="#1a1a1a" stroke-width="0.8"/>
<path d="M313.90000000000003,232.8 H316.3" stroke="#1a1a1a" stroke-width="0.8"/>
<path d="M316.3,361.0 V365.0" stroke="#1a1a1a" stroke-width="0.9"/>
<text x="316.3" y="372.5" font-size="8.2"  text-anchor="middle"  stroke="#111" stroke-width="0.3">0</text>
<path d="M342.1,361.0 V365.0" stroke="#1a1a1a" stroke-width="0.9"/>
<text x="342.1" y="372.5" font-size="8.2"  text-anchor="middle"  stroke="#111" stroke-width="0.3">20</text>
<path d="M367.9,361.0 V365.0" stroke="#1a1a1a" stroke-width="0.9"/>
<text x="367.9" y="372.5" font-size="8.2"  text-anchor="middle"  stroke="#111" stroke-width="0.3">40</text>
<path d="M393.7,361.0 V365.0" stroke="#1a1a1a" stroke-width="0.9"/>
<text x="393.7" y="372.5" font-size="8.2"  text-anchor="middle"  stroke="#111" stroke-width="0.3">60</text>
<path d="M419.5,361.0 V365.0" stroke="#1a1a1a" stroke-width="0.9"/>
<text x="419.5" y="372.5" font-size="8.2"  text-anchor="middle"  stroke="#111" stroke-width="0.3">80</text>
<path d="M445.3,361.0 V365.0" stroke="#1a1a1a" stroke-width="0.9"/>
<text x="445.3" y="372.5" font-size="8.2"  text-anchor="middle"  stroke="#111" stroke-width="0.3">100</text>
<path d="M471.1,361.0 V365.0" stroke="#1a1a1a" stroke-width="0.9"/>
<text x="471.1" y="372.5" font-size="8.2"  text-anchor="middle"  stroke="#111" stroke-width="0.3">120</text>
<path d="M316.3,361.0 V363.2" stroke="#1a1a1a" stroke-width="0.8"/>
<path d="M321.5,361.0 V363.2" stroke="#1a1a1a" stroke-width="0.8"/>
<path d="M326.6,361.0 V363.2" stroke="#1a1a1a" stroke-width="0.8"/>
<path d="M331.8,361.0 V363.2" stroke="#1a1a1a" stroke-width="0.8"/>
<path d="M336.9,361.0 V363.2" stroke="#1a1a1a" stroke-width="0.8"/>
<path d="M342.1,361.0 V363.2" stroke="#1a1a1a" stroke-width="0.8"/>
<path d="M347.3,361.0 V363.2" stroke="#1a1a1a" stroke-width="0.8"/>
<path d="M352.4,361.0 V363.2" stroke="#1a1a1a" stroke-width="0.8"/>
<path d="M357.6,361.0 V363.2" stroke="#1a1a1a" stroke-width="0.8"/>
<path d="M362.7,361.0 V363.2" stroke="#1a1a1a" stroke-width="0.8"/>
<path d="M367.9,361.0 V363.2" stroke="#1a1a1a" stroke-width="0.8"/>
<path d="M373.1,361.0 V363.2" stroke="#1a1a1a" stroke-width="0.8"/>
<path d="M378.2,361.0 V363.2" stroke="#1a1a1a" stroke-width="0.8"/>
<path d="M383.4,361.0 V363.2" stroke="#1a1a1a" stroke-width="0.8"/>
<path d="M388.5,361.0 V363.2" stroke="#1a1a1a" stroke-width="0.8"/>
<path d="M393.7,361.0 V363.2" stroke="#1a1a1a" stroke-width="0.8"/>
<path d="M398.9,361.0 V363.2" stroke="#1a1a1a" stroke-width="0.8"/>
<path d="M404.0,361.0 V363.2" stroke="#1a1a1a" stroke-width="0.8"/>
<path d="M409.2,361.0 V363.2" stroke="#1a1a1a" stroke-width="0.8"/>
<path d="M414.3,361.0 V363.2" stroke="#1a1a1a" stroke-width="0.8"/>
<path d="M419.5,361.0 V363.2" stroke="#1a1a1a" stroke-width="0.8"/>
<path d="M424.7,361.0 V363.2" stroke="#1a1a1a" stroke-width="0.8"/>
<path d="M429.8,361.0 V363.2" stroke="#1a1a1a" stroke-width="0.8"/>
<path d="M435.0,361.0 V363.2" stroke="#1a1a1a" stroke-width="0.8"/>
<path d="M440.1,361.0 V363.2" stroke="#1a1a1a" stroke-width="0.8"/>
<path d="M445.3,361.0 V363.2" stroke="#1a1a1a" stroke-width="0.8"/>
<path d="M450.5,361.0 V363.2" stroke="#1a1a1a" stroke-width="0.8"/>
<path d="M455.6,361.0 V363.2" stroke="#1a1a1a" stroke-width="0.8"/>
<path d="M460.8,361.0 V363.2" stroke="#1a1a1a" stroke-width="0.8"/>
<path d="M465.9,361.0 V363.2" stroke="#1a1a1a" stroke-width="0.8"/>
<path d="M471.1,361.0 V363.2" stroke="#1a1a1a" stroke-width="0.8"/>
<path d="M372.6,361.6 l2.5,4.2 h-5 Z" fill="#111"/>
<path d="M422.5,361.6 l2.5,4.2 h-5 Z" fill="#111"/>
<text x="299.6" y="295.6" font-size="10.3"  text-anchor="middle" transform="rotate(-90 299.6 295.6)" stroke="#111" stroke-width="0.3">Number</text>
<text x="392" y="382.5" font-size="10.1"  text-anchor="middle"  stroke="#111" stroke-width="0.3">Channels</text>
<text x="109.3" y="24" font-size="21.4" font-weight="bold">p53<tspan dx="1" dy="-8" font-size="14.5">+/+</tspan></text>
<text x="385" y="20.2" font-size="21.4" font-weight="bold">p53<tspan dx="1.2" dy="-7.5" font-size="14">-/-</tspan></text>
<text x="4.6" y="52" font-size="24" font-weight="bold" text-anchor="start"  >A</text>
<text x="283.4" y="50.6" font-size="24" font-weight="bold" text-anchor="start"  >B</text>
<text x="37" y="433" font-size="24" font-weight="bold" text-anchor="start"  >C</text>
<text x="275.6" y="432" font-size="24.8" font-weight="bold" text-anchor="start"  >D</text>
<text x="40.3" y="673.8" font-size="24" font-weight="bold" text-anchor="start"  >E</text>
<text x="279" y="673.8" font-size="24" font-weight="bold" text-anchor="start"  >F</text>
<text x="6.6" y="132.2" font-size="22.2"  text-anchor="start"  stroke="#111" stroke-width="0.3">-Tp</text>
<text x="1.2" y="289.8" font-size="21.2"  text-anchor="start"  stroke="#111" stroke-width="0.3">+Tp</text>
<text x="150.3" y="100.3" font-size="13.7" stroke="#111" stroke-width="0.3">p53<tspan dy="-3.8" font-size="9.6">+/+</tspan></text>
<text x="150.3" y="116.9" font-size="13.7"  text-anchor="start"  stroke="#111" stroke-width="0.3">G2/M: 12%</text>
<text x="401.6" y="100.3" font-size="13.7" stroke="#111" stroke-width="0.3">p53 <tspan dy="-3.8" font-size="9.6">-/-</tspan></text>
<text x="401.6" y="116.9" font-size="13.7"  text-anchor="start"  stroke="#111" stroke-width="0.3">G2/M: 16%</text>
<text x="161.2" y="251.0" font-size="13.7" stroke="#111" stroke-width="0.3">p53<tspan dy="-3.8" font-size="9.6">+/+</tspan></text>
<text x="161.2" y="266.5" font-size="13.7"  text-anchor="start"  stroke="#111" stroke-width="0.3">G2/M: 40%</text>
<text x="402" y="249.0" font-size="13.7" stroke="#111" stroke-width="0.3">p53 <tspan dy="-3.8" font-size="9.6">-/-</tspan></text>
<text x="402" y="265.2" font-size="13.7"  text-anchor="start"  stroke="#111" stroke-width="0.3">G2/M: 47%</text>
<path d="M94.4,437.5 V635.6 H255" fill="none" stroke="#111" stroke-width="2.1" stroke-linejoin="miter"/>
<text x="117.1" y="650.5" font-size="10.3" font-weight="bold" text-anchor="middle"  >0</text>
<text x="144.2" y="650.5" font-size="10.3" font-weight="bold" text-anchor="middle"  >1</text>
<text x="171.2" y="650.5" font-size="10.3" font-weight="bold" text-anchor="middle"  >2</text>
<text x="198.1" y="650.5" font-size="10.3" font-weight="bold" text-anchor="middle"  >3</text>
<text x="224.8" y="650.5" font-size="10.3" font-weight="bold" text-anchor="middle"  >4</text>
<text x="251.3" y="650.5" font-size="10.3" font-weight="bold" text-anchor="middle"  >5</text>
<text x="189.4" y="662.3" font-size="11.8"  text-anchor="middle"  >IR (Gy)</text>
<text x="86.3" y="453" font-size="10.6" font-weight="bold" text-anchor="end"  >1.0</text>
<text x="86.3" y="569.5" font-size="10.6" font-weight="bold" text-anchor="end"  >0.1</text>
<text x="48.6" y="545.7" font-size="11.6" font-weight="bold" text-anchor="middle" transform="rotate(-90 48.6 545.7)" >Surviving Fraction</text>
<path d="M116.2,446.75 L117.8,446.59 L119.3,446.49 L120.8,446.45 L122.3,446.46 L123.8,446.54 L125.3,446.68 L126.8,446.87 L128.4,447.12 L129.9,447.43 L131.4,447.79 L132.9,448.21 L134.4,448.69 L135.9,449.22 L137.4,449.80 L139.0,450.44 L140.5,451.13 L142.0,451.88 L143.5,452.67 L145.0,453.52 L146.5,454.41 L148.0,455.36 L149.6,456.36 L151.1,457.41 L152.6,458.50 L154.1,459.65 L155.6,460.84 L157.1,462.08 L158.6,463.36 L160.2,464.69 L161.7,466.07 L163.2,467.49 L164.7,468.96 L166.2,470.47 L167.7,472.02 L169.2,473.62 L170.8,475.25 L172.3,476.93 L173.8,478.65 L175.3,480.42 L176.8,482.22 L178.3,484.06 L179.8,485.94 L181.4,487.86 L182.9,489.82 L184.4,491.81 L185.9,493.84 L187.4,495.91 L188.9,498.01 L190.4,500.15 L192.0,502.32 L193.5,504.53 L195.0,506.77 L196.5,509.04 L198.0,511.35 L199.5,513.69 L201.0,516.06 L202.6,518.46 L204.1,520.89 L205.6,523.35 L207.1,525.84 L208.6,528.35 L210.1,530.90 L211.6,533.48 L213.2,536.08 L214.7,538.70 L216.2,541.36 L217.7,544.04 L219.2,546.74 L220.7,549.47 L222.2,552.22 L223.8,555.00" fill="none" stroke="#111" stroke-width="1.05" />
<path d="M116.2,446.75 L117.8,447.95 L119.3,449.19 L120.8,450.48 L122.3,451.81 L123.8,453.19 L125.3,454.60 L126.8,456.06 L128.4,457.56 L129.9,459.10 L131.4,460.68 L132.9,462.30 L134.4,463.96 L135.9,465.65 L137.4,467.39 L139.0,469.16 L140.5,470.97 L142.0,472.81 L143.5,474.69 L145.0,476.61 L146.5,478.56 L148.0,480.54 L149.6,482.56 L151.1,484.61 L152.6,486.70 L154.1,488.81 L155.6,490.96 L157.1,493.14 L158.6,495.35 L160.2,497.58 L161.7,499.85 L163.2,502.15 L164.7,504.47 L166.2,506.82 L167.7,509.20 L169.2,511.60 L170.8,514.03 L172.3,516.49 L173.8,518.97 L175.3,521.48 L176.8,524.01 L178.3,526.56 L179.8,529.13 L181.4,531.73 L182.9,534.35 L184.4,536.99 L185.9,539.65 L187.4,542.33 L188.9,545.03 L190.4,547.75 L192.0,550.49 L193.5,553.24 L195.0,556.02 L196.5,558.80 L198.0,561.61 L199.5,564.43 L201.0,567.27 L202.6,570.12 L204.1,572.98 L205.6,575.86 L207.1,578.75 L208.6,581.65 L210.1,584.57 L211.6,587.50 L213.2,590.43 L214.7,593.38 L216.2,596.34 L217.7,599.30 L219.2,602.28 L220.7,605.26 L222.2,608.25 L223.8,611.25" fill="none" stroke="#111" stroke-width="1.05" />
<path d="M143.5,448 V453.8 M142.0,448 h3 M142.0,453.8 h3" stroke="#666" stroke-width="0.7" fill="none"/>
<path d="M170,471.2 V483 M168.5,471.2 h3 M168.5,483 h3" stroke="#666" stroke-width="0.7" fill="none"/>
<path d="M223.75,551.2 V560 M222.25,551.2 h3 M222.25,560 h3" stroke="#666" stroke-width="0.7" fill="none"/>
<path d="M143.5,463.8 V487 M142.0,463.8 h3 M142.0,487 h3" stroke="#666" stroke-width="0.7" fill="none"/>
<path d="M170,500.5 V531.2 M168.5,500.5 h3 M168.5,531.2 h3" stroke="#666" stroke-width="0.7" fill="none"/>
<circle cx="143.5" cy="451.3" r="2.1" fill="#111"/>
<circle cx="170" cy="476.7" r="2.1" fill="#111"/>
<circle cx="223.75" cy="555" r="2.1" fill="#111"/>
<circle cx="116.25" cy="446.75" r="1.7" fill="#fff" stroke="#999" stroke-width="0.7"/>
<circle cx="143.5" cy="474.5" r="1.7" fill="#fff" stroke="#999" stroke-width="0.7"/>
<circle cx="170" cy="513.8" r="1.7" fill="#fff" stroke="#999" stroke-width="0.7"/>
<circle cx="223.75" cy="611.25" r="1.7" fill="#fff" stroke="#999" stroke-width="0.7"/>
<text x="182" y="457.6" font-size="10.3" font-weight="bold">HCT116 p53<tspan dy="-2.6" font-size="7.2">+/+</tspan></text>
<ellipse cx="103" cy="603" rx="2.7" ry="2.3" fill="#111"/>
<text x="113" y="609.5" font-size="13.8" font-weight="bold" text-anchor="start"  >IR</text>
<circle cx="103" cy="617.5" r="2.1" fill="#fff" stroke="#999" stroke-width="0.8"/>
<text x="111" y="623.8" font-size="10.7" font-weight="bold" text-anchor="start"  >7.5 <tspan font-weight="normal">μ</tspan>M Tp+ IR</text>
<path d="M304.8,437.5 V636 H475" fill="none" stroke="#111" stroke-width="2.1" stroke-linejoin="miter"/>
<text x="330.8" y="651" font-size="10.3" font-weight="bold" text-anchor="middle"  >0</text>
<text x="358.3" y="651" font-size="10.3" font-weight="bold" text-anchor="middle"  >1</text>
<text x="386.3" y="651" font-size="10.3" font-weight="bold" text-anchor="middle"  >2</text>
<text x="414" y="651" font-size="10.3" font-weight="bold" text-anchor="middle"  >3</text>
<text x="442" y="651" font-size="10.3" font-weight="bold" text-anchor="middle"  >4</text>
<text x="470.4" y="651" font-size="10.3" font-weight="bold" text-anchor="middle"  >5</text>
<text x="408" y="663.8" font-size="11.8"  text-anchor="middle"  >IR (Gy)</text>
<text x="293.8" y="453.8" font-size="10.6" font-weight="bold" text-anchor="end"  >1.0</text>
<text x="293.8" y="568.8" font-size="10.6" font-weight="bold" text-anchor="end"  >0.1</text>
<path d="M329.2,446.75 L330.8,446.85 L332.3,446.99 L333.8,447.15 L335.3,447.34 L336.8,447.55 L338.4,447.80 L339.9,448.08 L341.4,448.39 L342.9,448.73 L344.4,449.10 L345.9,449.50 L347.5,449.93 L349.0,450.39 L350.5,450.88 L352.0,451.41 L353.5,451.97 L355.0,452.56 L356.6,453.18 L358.1,453.84 L359.6,454.53 L361.1,455.26 L362.6,456.02 L364.1,456.81 L365.7,457.64 L367.2,458.50 L368.7,459.40 L370.2,460.33 L371.7,461.30 L373.2,462.31 L374.8,463.35 L376.3,464.43 L377.8,465.54 L379.3,466.69 L380.8,467.88 L382.3,469.11 L383.9,470.38 L385.4,471.68 L386.9,473.02 L388.4,474.40 L389.9,475.82 L391.4,477.28 L393.0,478.78 L394.5,480.32 L396.0,481.91 L397.5,483.53 L399.0,485.19 L400.5,486.89 L402.1,488.64 L403.6,490.42 L405.1,492.25 L406.6,494.12 L408.1,496.04 L409.6,497.99 L411.2,499.99 L412.7,502.03 L414.2,504.12 L415.7,506.25 L417.2,508.43 L418.7,510.65 L420.3,512.91 L421.8,515.22 L423.3,517.58 L424.8,519.98 L426.3,522.43 L427.8,524.92 L429.4,527.46 L430.9,530.05 L432.4,532.68 L433.9,535.37 L435.4,538.10 L436.9,540.88 L438.5,543.70 L440.0,546.58 L441.5,549.50" fill="none" stroke="#111" stroke-width="1.05" />
<path d="M329.2,446.75 L330.8,447.89 L332.3,449.06 L333.8,450.27 L335.3,451.50 L336.8,452.78 L338.4,454.08 L339.9,455.42 L341.4,456.80 L342.9,458.20 L344.4,459.64 L345.9,461.11 L347.5,462.61 L349.0,464.15 L350.5,465.71 L352.0,467.31 L353.5,468.94 L355.0,470.60 L356.6,472.29 L358.1,474.01 L359.6,475.76 L361.1,477.54 L362.6,479.35 L364.1,481.19 L365.7,483.05 L367.2,484.95 L368.7,486.88 L370.2,488.83 L371.7,490.82 L373.2,492.83 L374.8,494.87 L376.3,496.94 L377.8,499.03 L379.3,501.15 L380.8,503.30 L382.3,505.48 L383.9,507.68 L385.4,509.91 L386.9,512.16 L388.4,514.44 L389.9,516.75 L391.4,519.08 L393.0,521.43 L394.5,523.82 L396.0,526.22 L397.5,528.65 L399.0,531.11 L400.5,533.59 L402.1,536.09 L403.6,538.61 L405.1,541.16 L406.6,543.74 L408.1,546.33 L409.6,548.95 L411.2,551.59 L412.7,554.25 L414.2,556.94 L415.7,559.64 L417.2,562.37 L418.7,565.12 L420.3,567.89 L421.8,570.68 L423.3,573.49 L424.8,576.32 L426.3,579.18 L427.8,582.05 L429.4,584.94 L430.9,587.85 L432.4,590.78 L433.9,593.73 L435.4,596.70 L436.9,599.68 L438.5,602.69 L440.0,605.71 L441.5,608.75" fill="none" stroke="#111" stroke-width="1.05" />
<path d="M357.5,448.8 V459.5 M356.0,448.8 h3 M356.0,459.5 h3" stroke="#666" stroke-width="0.7" fill="none"/>
<path d="M385.5,464.2 V481.2 M384.0,464.2 h3 M384.0,481.2 h3" stroke="#666" stroke-width="0.7" fill="none"/>
<path d="M441.5,548 V551 M440.0,548 h3 M440.0,551 h3" stroke="#666" stroke-width="0.7" fill="none"/>
<path d="M357.5,467.5 V478.2 M356.0,467.5 h3 M356.0,478.2 h3" stroke="#666" stroke-width="0.7" fill="none"/>
<path d="M441.5,605 V613.8 M440.0,605 h3 M440.0,613.8 h3" stroke="#666" stroke-width="0.7" fill="none"/>
<circle cx="357.5" cy="454.2" r="2.1" fill="#111"/>
<circle cx="385.5" cy="471.5" r="2.1" fill="#111"/>
<circle cx="441.5" cy="549.5" r="2.1" fill="#111"/>
<circle cx="329.25" cy="446.75" r="1.7" fill="#fff" stroke="#999" stroke-width="0.7"/>
<circle cx="357.5" cy="473.5" r="1.7" fill="#fff" stroke="#999" stroke-width="0.7"/>
<circle cx="385.5" cy="510" r="1.7" fill="#fff" stroke="#999" stroke-width="0.7"/>
<circle cx="441.5" cy="608.75" r="1.7" fill="#fff" stroke="#999" stroke-width="0.7"/>
<text x="396.6" y="458.3" font-size="10.3" font-weight="bold">HCT116 p53<tspan dx="0.8" dy="-3.3" font-size="12.5">-/-</tspan></text>
<ellipse cx="315" cy="603" rx="2.7" ry="2.3" fill="#111"/>
<text x="325" y="609.5" font-size="13.8" font-weight="bold" text-anchor="start"  >IR</text>
<circle cx="315" cy="617.5" r="2.1" fill="#fff" stroke="#999" stroke-width="0.8"/>
<text x="323" y="623.8" font-size="10.7" font-weight="bold" text-anchor="start"  >7.5 <tspan font-weight="normal">μ</tspan>MTp + IR</text>
<path d="M91.5,673.8 V870 H244.3" fill="none" stroke="#111" stroke-width="2.1" stroke-linejoin="miter"/>
<text x="114.2" y="884.6" font-size="10.3" font-weight="bold" text-anchor="middle"  >0</text>
<text x="138.1" y="884.6" font-size="10.3" font-weight="bold" text-anchor="middle"  >1</text>
<text x="162.1" y="884.6" font-size="10.3" font-weight="bold" text-anchor="middle"  >2</text>
<text x="186.2" y="884.6" font-size="10.3" font-weight="bold" text-anchor="middle"  >3</text>
<text x="210.2" y="884.6" font-size="10.3" font-weight="bold" text-anchor="middle"  >4</text>
<text x="234.3" y="884.6" font-size="10.3" font-weight="bold" text-anchor="middle"  >5</text>
<text x="190.6" y="895.2" font-size="11.8"  text-anchor="middle"  >IR (Gy)</text>
<text x="84.2" y="695" font-size="10.6" font-weight="bold" text-anchor="end"  >1.0</text>
<text x="84.2" y="786.5" font-size="10.6" font-weight="bold" text-anchor="end"  >0.1</text>
<text x="48.6" y="773.1" font-size="11.6" font-weight="bold" text-anchor="middle" transform="rotate(-90 48.6 773.1)" >Surviving Fraction</text>
<path d="M113.2,689.50 L114.8,689.72 L116.3,689.98 L117.8,690.27 L119.3,690.60 L120.8,690.95 L122.3,691.34 L123.8,691.77 L125.3,692.22 L126.8,692.71 L128.3,693.23 L129.8,693.78 L131.3,694.37 L132.8,694.99 L134.3,695.64 L135.8,696.32 L137.3,697.03 L138.8,697.78 L140.3,698.56 L141.8,699.37 L143.3,700.21 L144.8,701.09 L146.3,702.00 L147.8,702.94 L149.3,703.91 L150.8,704.91 L152.4,705.94 L153.9,707.01 L155.4,708.11 L156.9,709.24 L158.4,710.40 L159.9,711.59 L161.4,712.82 L162.9,714.07 L164.4,715.36 L165.9,716.68 L167.4,718.03 L168.9,719.41 L170.4,720.82 L171.9,722.26 L173.4,723.73 L174.9,725.24 L176.4,726.77 L177.9,728.34 L179.4,729.93 L180.9,731.56 L182.4,733.22 L183.9,734.91 L185.4,736.63 L186.9,738.38 L188.4,740.16 L189.9,741.97 L191.5,743.81 L193.0,745.68 L194.5,747.58 L196.0,749.51 L197.5,751.48 L199.0,753.47 L200.5,755.49 L202.0,757.54 L203.5,759.62 L205.0,761.74 L206.5,763.88 L208.0,766.05 L209.5,768.25" fill="none" stroke="#111" stroke-width="1.05" />
<path d="M113.2,689.50 L114.8,690.50 L116.3,691.54 L117.8,692.62 L119.3,693.74 L120.8,694.89 L122.3,696.07 L123.8,697.29 L125.3,698.55 L126.8,699.83 L128.3,701.15 L129.8,702.51 L131.3,703.89 L132.8,705.30 L134.3,706.75 L135.8,708.22 L137.3,709.73 L138.8,711.26 L140.3,712.82 L141.8,714.40 L143.3,716.01 L144.8,717.65 L146.3,719.31 L147.8,721.00 L149.3,722.71 L150.8,724.45 L152.4,726.20 L153.9,727.98 L155.4,729.78 L156.9,731.60 L158.4,733.44 L159.9,735.30 L161.4,737.18 L162.9,739.07 L164.4,740.99 L165.9,742.92 L167.4,744.86 L168.9,746.82 L170.4,748.80 L171.9,750.79 L173.4,752.79 L174.9,754.81 L176.4,756.84 L177.9,758.88 L179.4,760.93 L180.9,762.99 L182.4,765.06 L183.9,767.14 L185.4,769.23 L186.9,771.33 L188.4,773.43 L189.9,775.54 L191.5,777.65 L193.0,779.77 L194.5,781.90 L196.0,784.03 L197.5,786.16 L199.0,788.29 L200.5,790.43 L202.0,792.57 L203.5,794.70 L205.0,796.84 L206.5,798.98 L208.0,801.12 L209.5,803.25" fill="none" stroke="#111" stroke-width="1.05" />
<path d="M113.25,683.8 V695.8 M111.75,683.8 h3 M111.75,695.8 h3" stroke="#666" stroke-width="0.7" fill="none"/>
<path d="M161.25,704.5 V725 M159.75,704.5 h3 M159.75,725 h3" stroke="#666" stroke-width="0.7" fill="none"/>
<path d="M161.25,733.8 V740 M159.75,733.8 h3 M159.75,740 h3" stroke="#666" stroke-width="0.7" fill="none"/>
<path d="M209.5,793.2 V817 M208.0,793.2 h3 M208.0,817 h3" stroke="#666" stroke-width="0.7" fill="none"/>
<circle cx="161.25" cy="713.25" r="2.1" fill="#111"/>
<circle cx="209.5" cy="768.25" r="2.1" fill="#111"/>
<circle cx="113.25" cy="689.5" r="1.7" fill="#fff" stroke="#999" stroke-width="0.7"/>
<circle cx="161.25" cy="736.5" r="1.7" fill="#fff" stroke="#999" stroke-width="0.7"/>
<circle cx="209.5" cy="803.25" r="1.7" fill="#fff" stroke="#999" stroke-width="0.7"/>
<text x="167.3" y="698.8" font-size="10.3" font-weight="bold">HCT116 p53<tspan dy="-2.6" font-size="7.2">+/+</tspan></text>
<ellipse cx="100.5" cy="838" rx="2.7" ry="2.3" fill="#111"/>
<text x="110.3" y="844.3" font-size="13.8" font-weight="bold" text-anchor="start"  >IR</text>
<circle cx="100.5" cy="852.5" r="2.1" fill="#fff" stroke="#999" stroke-width="0.8"/>
<text x="108" y="859.3" font-size="10.7" font-weight="bold" text-anchor="start"  >7.5 <tspan font-weight="normal">μ</tspan>M Tp + IR</text>
<path d="M306,672.5 V869.4 H459.5" fill="none" stroke="#111" stroke-width="2.1" stroke-linejoin="miter"/>
<text x="326.2" y="883.6" font-size="10.3" font-weight="bold" text-anchor="middle"  >0</text>
<text x="348.8" y="883.6" font-size="10.3" font-weight="bold" text-anchor="middle"  >2</text>
<text x="370.8" y="883.6" font-size="10.3" font-weight="bold" text-anchor="middle"  >4</text>
<text x="393.2" y="883.6" font-size="10.3" font-weight="bold" text-anchor="middle"  >6</text>
<text x="415.6" y="883.6" font-size="10.3" font-weight="bold" text-anchor="middle"  >8</text>
<text x="439.2" y="883.6" font-size="10.3" font-weight="bold" text-anchor="middle"  >10</text>
<text x="461.6" y="883.6" font-size="10.3" font-weight="bold" text-anchor="middle"  >12</text>
<text x="409" y="894.6" font-size="11.8"  text-anchor="middle"  >IR (Gy)</text>
<text x="297.6" y="695" font-size="10.6" font-weight="bold" text-anchor="end"  >1.0</text>
<text x="297.6" y="785.8" font-size="10.6" font-weight="bold" text-anchor="end"  >0.1</text>
<path d="M325.5,687.6 L437,707.4" fill="none" stroke="#111" stroke-width="1.0" stroke-dasharray="3.4 1.7"/>
<path d="M325.5,688.2 L437,711.4" fill="none" stroke="#111" stroke-width="1.25" />
<path d="M325.5,689.5 L437,714" fill="none" stroke="#777" stroke-width="0.8" stroke-dasharray="1 1.4"/>
<path d="M325.5,682.5 V695 M324.0,682.5 h3 M324.0,695 h3" stroke="#666" stroke-width="0.7" fill="none"/>
<path d="M392.5,692 V709.5 M391.0,692 h3 M391.0,709.5 h3" stroke="#666" stroke-width="0.7" fill="none"/>
<path d="M437,702 V723.8 M435.5,702 h3 M435.5,723.8 h3" stroke="#666" stroke-width="0.7" fill="none"/>
<path d="M392.5,697 V707 M391.0,697 h3 M391.0,707 h3" stroke="#999" stroke-width="0.7" fill="none"/>
<path d="M437,705 V719 M435.5,705 h3 M435.5,719 h3" stroke="#999" stroke-width="0.7" fill="none"/>
<path d="M437,708 V727 M435.5,708 h3 M435.5,727 h3" stroke="#999" stroke-width="0.7" fill="none"/>
<circle cx="325.5" cy="688" r="1.7" fill="#111"/>
<circle cx="392.5" cy="700" r="1.7" fill="#111"/>
<circle cx="437" cy="707.8" r="1.7" fill="#111"/>
<circle cx="392.5" cy="702.5" r="1.4" fill="#fff" stroke="#999" stroke-width="0.7"/>
<circle cx="437" cy="711.5" r="1.4" fill="#fff" stroke="#999" stroke-width="0.7"/>
<text x="413.6" y="692" font-size="10.2" font-weight="bold" text-anchor="start"  >MRC5</text>
<ellipse cx="315" cy="821.3" rx="2.7" ry="2.3" fill="#111"/>
<text x="325" y="827.5" font-size="13.8" font-weight="bold" text-anchor="start"  >IR</text>
<circle cx="315" cy="836.3" r="2.1" fill="#fff" stroke="#999" stroke-width="0.8"/>
<text x="323.2" y="842.5" font-size="10.7" font-weight="bold" text-anchor="start"  >25 <tspan font-weight="normal">μ</tspan>M Tp + IR</text>
<path d="M312.1,851.8000000000001 h4.8 l-2.4,4.2 Z" fill="#111"/>
<text x="323.2" y="860" font-size="10.7" font-weight="bold" text-anchor="start"  >30 <tspan font-weight="normal">μ</tspan>M Tp + IR</text>
</svg></body></html>
